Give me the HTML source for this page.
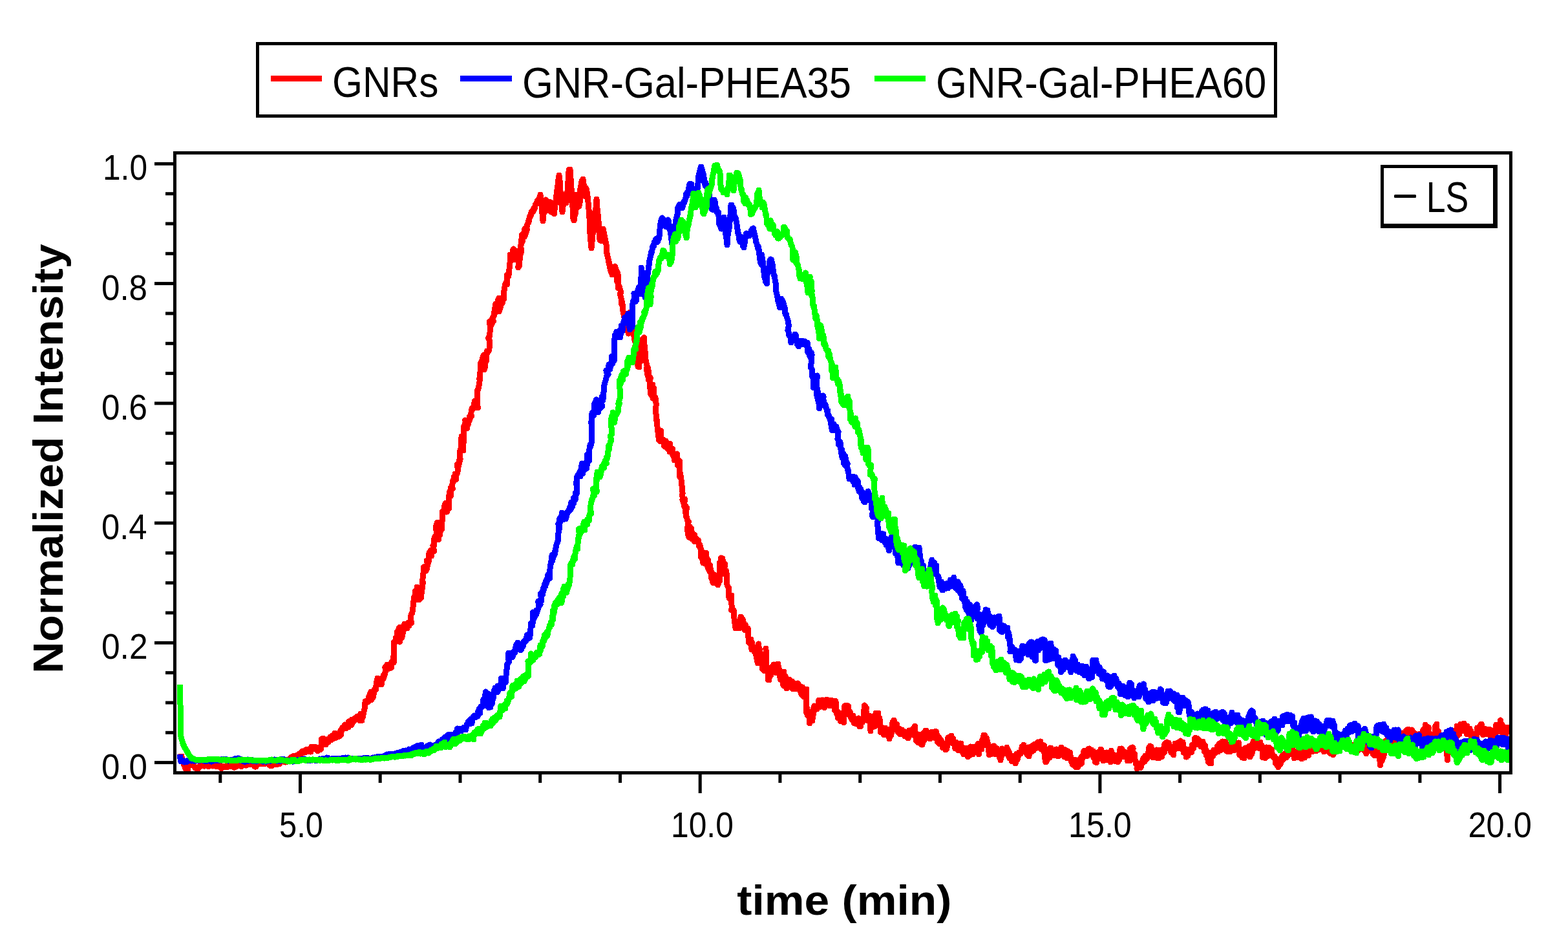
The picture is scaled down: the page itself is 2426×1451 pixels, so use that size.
<!DOCTYPE html>
<html><head><meta charset="utf-8"><title>Normalized Intensity vs time</title>
<style>html,body{margin:0;padding:0;background:#fff;overflow:hidden}svg{display:block}
text{font-family:"Liberation Sans", Arial, sans-serif;fill:#000}</style></head>
<body>
<svg width="2426" height="1451" viewBox="0 0 2426 1451">
<rect width="2426" height="1451" fill="#fff"/>
<rect x="398.5" y="67.5" width="1575" height="112" fill="#fff" stroke="#000" stroke-width="5"/>
<rect x="419" y="117" width="79" height="9" fill="#f00"/>
<rect x="712" y="117" width="80" height="9" fill="#00f"/>
<rect x="1353" y="117" width="79" height="9" fill="#0f0"/>
<text transform="matrix(0.60417 0 0 0.66901 513.98 150.33)" x="0" y="0" font-size="100" font-weight="normal">GNRs</text>
<text transform="matrix(0.61477 0 0 0.67568 807.93 150.82)" x="0" y="0" font-size="100" font-weight="normal">GNR-Gal-PHEA35</text>
<text transform="matrix(0.61783 0 0 0.67568 1447.91 150.82)" x="0" y="0" font-size="100" font-weight="normal">GNR-Gal-PHEA60</text>
<clipPath id="pc"><rect x="273" y="239" width="2062" height="954"/></clipPath>
<g clip-path="url(#pc)">
<polyline points="280.0,1166 280.7,1171 281.3,1171 282.0,1174 282.7,1176 283.3,1178 284.0,1182 284.7,1181 285.3,1185 286.0,1184 286.7,1188 287.3,1190 288.0,1190 288.7,1190 289.3,1190 290.0,1190 290.7,1190 291.3,1185 292.0,1184 292.7,1184 293.3,1183 294.0,1183 294.7,1182 295.3,1182 296.0,1181 296.7,1181 297.3,1182 298.0,1183 298.7,1184 299.3,1185 300.0,1185 300.7,1185 301.3,1187 302.0,1188 302.7,1188 303.3,1188 304.0,1189 304.7,1189 305.3,1190 306.0,1190 306.7,1189 307.3,1188 308.0,1186 308.7,1187 309.3,1184 310.0,1185 310.7,1184 311.4,1183 312.1,1183 312.8,1184 313.4,1185 314.1,1184 314.8,1184 315.5,1185 316.2,1185 316.9,1185 317.6,1184 318.3,1184 319.0,1185 319.7,1184 320.3,1184 321.0,1184 321.7,1185 322.4,1186 323.1,1185 323.8,1185 324.5,1185 325.2,1185 325.9,1184 326.6,1185 327.2,1185 327.9,1184 328.6,1185 329.3,1185 330.0,1185 330.7,1184 331.4,1184 332.1,1185 332.8,1184 333.5,1184 334.2,1184 334.9,1186 335.6,1184 336.3,1185 337.0,1184 337.7,1185 338.4,1185 339.1,1186 339.8,1184 340.5,1185 341.2,1187 341.9,1187 342.6,1189 343.3,1188 344.0,1187 344.7,1185 345.3,1187 346.0,1186 346.7,1185 347.4,1185 348.1,1185 348.8,1185 349.5,1185 350.2,1187 350.9,1186 351.6,1187 352.3,1186 353.0,1184 353.7,1184 354.4,1184 355.1,1186 355.8,1184 356.5,1184 357.2,1185 357.9,1184 358.6,1184 359.3,1186 360.0,1184 360.7,1185 361.4,1187 362.1,1187 362.8,1187 363.5,1187 364.2,1186 364.9,1186 365.6,1183 366.3,1183 367.0,1184 367.7,1184 368.4,1182 369.1,1182 369.8,1183 370.5,1184 371.2,1185 371.9,1185 372.6,1185 373.3,1186 374.0,1184 374.7,1184 375.3,1184 376.0,1184 376.7,1183 377.4,1184 378.1,1183 378.8,1184 379.5,1184 380.2,1183 380.9,1184 381.6,1184 382.3,1183 383.0,1183 383.7,1183 384.4,1182 385.1,1183 385.8,1181 386.5,1182 387.2,1183 387.9,1182 388.6,1182 389.3,1180 390.0,1180 390.7,1180 391.4,1181 392.1,1180 392.8,1179 393.5,1185 394.2,1186 394.9,1186 395.6,1186 396.3,1186 397.0,1182 397.7,1182 398.4,1181 399.1,1181 399.8,1182 400.5,1181 401.2,1182 401.9,1181 402.6,1182 403.3,1181 404.0,1182 404.7,1181 405.3,1181 406.0,1182 406.7,1180 407.4,1181 408.1,1182 408.8,1181 409.5,1182 410.2,1181 410.9,1179 411.6,1180 412.3,1180 413.0,1179 413.7,1180 414.4,1180 415.1,1181 415.8,1181 416.5,1183 417.2,1184 417.9,1184 418.6,1185 419.3,1184 420.0,1184 420.7,1185 421.4,1181 422.1,1181 422.8,1180 423.4,1181 424.1,1179 424.8,1179 425.5,1180 426.2,1180 426.9,1180 427.6,1183 428.3,1183 429.0,1181 429.7,1181 430.3,1182 431.0,1181 431.7,1182 432.4,1182 433.1,1181 433.8,1176 434.5,1176 435.2,1177 435.9,1176 436.6,1177 437.2,1176 437.9,1175 438.6,1175 439.3,1175 440.0,1178 440.7,1179 441.3,1179 442.0,1179 442.7,1177 443.3,1178 444.0,1178 444.7,1177 445.4,1175 446.0,1175 446.7,1175 447.4,1175 448.0,1174 448.7,1174 449.4,1173 450.0,1172 450.7,1171 451.4,1172 452.0,1171 452.7,1170 453.4,1171 454.0,1172 454.7,1171 455.4,1170 456.0,1169 456.7,1171 457.4,1170 458.1,1169 458.7,1169 459.4,1168 460.1,1168 460.7,1169 461.4,1168 462.1,1167 462.7,1166 463.4,1168 464.0,1166 464.7,1167 465.4,1165 466.0,1168 466.7,1165 467.4,1162 468.0,1164 468.7,1164 469.4,1164 469.9,1164 470.7,1163 471.3,1164 472.0,1164 472.8,1163 473.2,1160 474.2,1163 474.4,1163 475.4,1159 475.8,1159 476.4,1162 477.2,1159 478.2,1162 478.7,1161 479.6,1160 480.0,1163 480.9,1163 481.5,1157 482.0,1155 482.6,1158 483.4,1156 484.2,1155 484.6,1156 485.3,1158 486.0,1159 486.8,1155 487.4,1158 487.9,1156 488.7,1157 489.3,1156 490.0,1159 490.8,1159 491.5,1162 492.1,1157 492.8,1157 493.2,1158 493.6,1159 495.1,1160 495.7,1159 495.7,1155 496.4,1159 497.3,1149 497.5,1143 499.0,1148 498.5,1143 500.1,1142 500.5,1150 501.2,1147 501.9,1146 502.5,1150 503.2,1151 504.0,1152 504.6,1150 505.3,1149 506.0,1149 506.6,1145 507.4,1143 508.0,1148 508.7,1145 509.2,1143 510.5,1144 511.0,1140 511.5,1144 512.1,1145 512.4,1143 513.6,1138 514.2,1143 514.8,1143 515.8,1138 516.6,1142 516.7,1139 517.6,1137 518.1,1134 518.8,1142 519.5,1141 520.2,1136 520.8,1137 521.8,1137 522.2,1139 522.8,1136 523.5,1140 524.2,1135 525.1,1139 525.6,1137 526.5,1132 527.0,1130 527.5,1137 528.0,1132 529.1,1130 529.4,1126 530.3,1126 531.2,1127 531.5,1127 532.5,1123 533.4,1121 534.1,1125 534.4,1123 535.2,1127 535.6,1121 537.2,1123 537.5,1124 538.0,1121 539.2,1125 539.5,1116 539.7,1121 540.3,1120 541.3,1122 542.4,1120 543.2,1116 543.4,1122 544.2,1113 544.5,1118 545.2,1119 545.7,1113 547.1,1116 547.3,1116 547.7,1112 548.5,1111 549.0,1111 549.6,1112 550.3,1113 551.0,1111 552.3,1108 552.8,1113 553.5,1111 553.9,1108 554.2,1108 555.5,1111 556.8,1115 557.7,1104 557.1,1115 557.0,1111 558.8,1112 559.8,1115 560.3,1106 560.1,1112 560.9,1104 561.3,1110 562.6,1102 563.5,1099 564.6,1094 564.3,1093 565.1,1085 565.8,1085 567.0,1087 567.3,1084 568.1,1085 569.4,1086 570.1,1082 570.9,1077 571.7,1077 571.2,1077 573.1,1072 572.3,1078 572.9,1077 573.9,1070 574.5,1083 574.8,1082 576.7,1079 577.8,1078 577.6,1078 578.6,1071 578.4,1071 579.4,1066 579.3,1069 581.2,1066 581.5,1067 581.5,1062 582.3,1061 583.0,1053 584.2,1049 584.8,1050 585.0,1054 586.0,1055 587.0,1058 587.7,1056 587.7,1057 588.8,1056 589.0,1058 590.1,1059 590.5,1050 590.9,1054 592.3,1049 593.1,1045 592.9,1049 593.2,1050 595.2,1042 594.8,1045 596.7,1038 595.8,1032 596.8,1034 597.5,1035 598.9,1028 599.5,1035 600.2,1032 599.9,1035 600.7,1035 601.9,1034 602.9,1034 604.4,1033 603.1,1031 605.3,1033 605.3,1026 605.9,1024 608.0,1024 608.5,1016 609.1,1025 609.3,1017 609.3,1016 609.5,993 610.4,995 611.9,991 613.1,992 612.3,986 612.8,987 614.3,990 614.1,978 615.1,984 615.5,977 617.7,971 616.9,973 618.3,970 620.3,975 618.3,993 620.3,986 620.8,984 621.9,986 623.7,977 621.9,976 624.5,975 623.6,976 624.4,975 625.1,974 625.9,965 627.3,968 627.0,967 628.9,970 628.2,965 630.5,967 629.8,972 631.8,963 632.0,963 632.9,968 633.2,966 633.2,965 633.7,966 635.7,956 636.3,964 635.5,953 636.4,950 637.6,949 638.6,943 639.7,932 640.9,923 640.3,930 640.6,929 642.7,921 642.4,916 642.7,914 644.9,914 643.5,916 646.1,916 645.0,908 648.0,912 646.8,925 646.6,920 648.6,920 647.9,928 650.1,926 652.0,924 650.5,917 650.4,921 652.2,918 654.3,901 653.4,901 654.1,894 655.1,886 655.1,884 655.5,877 657.6,884 656.9,884 659.4,883 660.2,874 660.6,880 661.4,873 660.2,867 662.3,866 661.7,874 664.1,863 662.9,870 664.0,855 664.0,857 666.7,854 666.5,851 667.8,860 667.1,854 668.3,854 668.8,853 671.4,852 669.9,844 671.4,853 670.6,852 672.0,832 674.4,828 675.5,826 675.9,817 674.6,819 675.0,812 676.4,818 676.4,808 678.4,835 679.8,825 680.5,828 680.1,827 682.2,819 680.7,814 682.8,820 683.3,819 683.5,818 684.7,791 684.7,791 685.2,791 686.6,791 688.0,784 688.3,786 687.4,784 688.3,780 690.1,778 689.6,792 691.3,792 691.9,784 692.9,780 693.4,780 694.4,787 694.7,767 695.1,765 695.9,760 697.8,767 696.2,762 698.0,765 697.4,754 700.3,756 699.1,751 699.8,750 700.6,744 702.4,744 701.7,743 702.5,737 705.4,738 705.7,742 704.0,733 705.2,737 707.4,732 708.5,727 708.3,725 707.4,718 708.0,724 709.5,721 712.1,710 710.8,715 711.5,699 714.2,689 714.1,693 713.3,684 714.1,675 716.9,697 715.4,693 718.0,681 717.8,681 717.4,682 717.7,660 721.0,651 719.7,650 722.5,663 722.9,656 723.4,650 722.2,657 722.6,658 724.3,649 724.7,656 726.2,645 725.6,650 726.9,649 728.7,641 729.5,644 728.9,641 729.1,636 730.5,631 731.4,631 731.9,630 732.5,632 732.8,630 734.4,620 735.0,631 735.1,631 735.4,627 736.0,631 738.2,624 739.4,631 738.0,624 738.0,605 739.8,602 741.8,593 742.3,586 742.0,588 741.9,585 744.0,567 743.8,561 743.3,562 745.6,558 746.8,562 746.8,556 746.5,554 748.5,549 748.9,569 749.2,572 750.1,569 751.0,555 751.7,559 750.1,551 751.4,558 752.1,559 752.9,546 753.2,543 754.1,546 757.0,541 757.2,526 755.5,523 757.3,520 759.2,504 757.6,497 758.2,506 760.5,499 762.0,494 760.2,502 763.4,497 761.9,492 762.2,492 764.3,488 765.3,479 765.6,485 765.4,479 766.9,470 768.1,471 769.2,472 770.2,465 770.9,464 771.5,471 769.7,470 771.9,461 772.8,477 772.1,482 774.8,474 773.1,472 774.4,475 774.4,471 777.3,469 776.6,466 777.7,467 777.4,462 780.0,462 779.1,452 779.3,458 779.9,450 781.5,440 783.6,436 782.7,440 784.4,440 784.8,436 784.9,435 784.6,425 786.1,427 786.5,428 787.7,423 788.2,412 789.8,401 789.1,394 790.9,394 792.5,398 792.4,398 791.9,397 793.1,397 793.2,394 793.8,386 794.6,385 796.1,402 797.6,393 797.7,395 797.7,396 799.5,396 799.1,388 800.7,388 799.5,400 801.8,396 802.8,403 801.8,414 803.8,410 804.1,400 804.1,392 805.7,393 806.9,386 805.3,381 808.8,372 806.6,375 807.5,363 809.8,361 810.2,366 811.9,359 812.5,353 811.2,356 811.7,366 813.2,362 815.3,355 814.3,354 815.3,350 816.0,347 816.7,346 817.3,342 818.0,344 818.7,339 819.3,337 820.0,334 820.7,335 821.3,333 822.0,328 822.7,327 823.3,328 824.0,327 824.7,328 825.3,323 826.0,325 826.7,322 827.3,323 828.0,318 828.7,316 829.3,315 830.0,315 830.7,313 831.3,310 832.0,312 832.7,310 833.3,308 834.0,309 834.7,305 835.3,306 836.0,301 836.7,312 837.3,310 838.0,319 838.7,328 839.3,334 840.0,342 840.6,339 841.2,329 841.9,325 842.5,320 843.1,319 843.8,314 844.4,309 845.0,325 845.7,326 846.3,323 847.0,325 847.7,326 848.3,314 849.0,312 849.7,315 850.3,314 851.0,316 851.7,316 852.4,313 853.1,328 853.8,327 854.5,329 855.2,328 855.9,327 856.6,328 857.3,331 858.0,325 858.7,318 859.4,315 860.1,311 860.8,304 861.5,295 862.2,293 862.9,288 863.6,279 864.3,276 865.0,271 865.6,274 866.2,282 866.9,294 867.5,299 868.1,307 868.8,314 869.4,323 870.0,328 870.7,325 871.3,315 872.0,312 872.7,307 873.3,308 874.0,302 874.7,304 875.3,300 876.0,314 876.7,310 877.3,304 878.0,295 878.7,293 879.3,269 880.0,265 880.7,262 881.3,262 882.0,262 882.6,268 883.2,280 883.9,289 884.5,299 885.1,310 885.8,316 886.4,328 887.0,339 887.6,340 888.2,341 888.9,335 889.5,331 890.1,332 890.8,306 891.4,307 892.0,301 892.7,302 893.3,321 894.0,319 894.7,319 895.3,318 896.0,319 896.7,315 897.3,312 898.0,291 898.7,289 899.3,283 900.0,283 900.7,279 901.3,278 902.0,277 902.7,294 903.3,290 904.0,287 904.7,290 905.3,296 906.0,304 906.7,291 907.3,293 908.0,296 908.7,302 909.3,305 910.0,313 910.6,317 911.2,327 911.9,334 912.5,353 913.1,363 913.8,371 914.4,378 915.0,384 915.7,378 916.3,369 917.0,363 917.7,353 918.3,343 919.0,339 919.7,330 920.3,328 921.0,327 921.7,323 922.3,322 923.0,308 923.6,316 924.2,325 924.9,329 925.5,339 926.1,343 926.8,356 927.4,366 928.0,371 928.6,372 929.2,369 929.9,365 930.5,373 931.1,371 931.8,372 932.4,370 933.0,354 933.7,356 934.4,362 935.1,364 935.8,367 936.5,371 937.2,374 937.9,376 938.6,391 939.3,393 940.0,396 940.7,399 941.4,402 942.1,408 942.8,407 943.5,413 944.2,417 944.9,418 945.6,421 946.3,420 947.0,425 947.6,424 948.2,419 948.9,419 949.5,418 950.1,413 950.8,414 951.4,412 952.0,413 952.7,418 953.3,421 954.0,429 954.7,436 953.9,419 956.0,423 956.5,446 957.0,444 958.0,444 958.6,444 959.0,447 961.0,452 959.3,454 961.5,464 962.3,470 961.2,470 962.4,468 962.7,467 964.3,485 966.2,486 965.4,490 966.5,492 967.8,497 969.2,501 968.1,496 970.1,494 968.7,506 971.7,509 972.5,516 970.9,510 971.3,509 973.4,484 975.0,483 975.4,495 975.1,493 974.5,507 975.3,498 976.0,503 976.6,506 977.8,513 979.0,512 979.9,517 981.7,523 981.1,524 981.5,518 982.4,526 983.5,532 982.6,537 982.8,546 984.1,557 984.3,561 985.6,554 987.0,567 988.9,568 988.5,562 988.4,555 990.4,560 989.2,548 990.6,551 992.5,551 990.8,542 992.1,529 992.2,531 993.6,536 994.0,525 995.7,532 995.1,530 996.4,522 996.2,533 996.7,533 997.6,536 998.7,555 1001.5,568 1000.5,570 1000.0,570 1001.7,578 1002.1,581 1002.5,569 1003.0,572 1003.4,588 1006.3,584 1005.1,597 1005.2,595 1006.9,610 1006.3,603 1009.1,608 1010.1,616 1008.6,603 1009.8,595 1010.1,601 1011.4,600 1011.2,607 1011.8,617 1013.3,614 1014.6,618 1015.2,626 1014.3,635 1016.2,650 1015.8,650 1018.2,670 1018.2,672 1018.8,676 1019.9,673 1019.4,681 1021.4,683 1020.6,677 1021.9,666 1022.6,674 1022.4,666 1023.1,681 1026.0,682 1026.0,680 1027.2,685 1027.5,688 1027.3,690 1028.8,685 1029.0,686 1029.2,691 1030.0,682 1031.8,685 1032.3,694 1032.7,687 1033.1,692 1034.7,693 1035.2,690 1036.2,686 1035.8,693 1036.0,699 1038.4,694 1037.7,693 1039.2,696 1040.4,694 1040.8,704 1040.8,700 1041.3,699 1041.8,703 1041.7,705 1044.2,711 1043.2,712 1044.2,707 1046.7,710 1047.1,704 1047.3,702 1047.2,709 1049.1,715 1048.6,720 1049.4,716 1050.3,712 1051.9,724 1051.7,713 1051.2,737 1052.5,732 1054.5,745 1054.4,745 1056.1,763 1055.1,766 1055.6,765 1057.4,778 1055.9,773 1059.1,773 1059.8,772 1058.1,782 1060.9,787 1060.6,782 1061.1,798 1062.3,785 1061.5,796 1064.4,808 1065.3,807 1063.3,819 1065.8,831 1064.9,828 1066.2,830 1067.7,815 1068.8,819 1068.3,817 1069.7,817 1068.9,832 1070.8,834 1071.5,825 1071.9,831 1072.0,834 1073.1,834 1074.5,830 1074.5,827 1074.3,838 1075.7,835 1076.1,832 1076.5,835 1077.5,833 1077.9,834 1078.3,835 1079.8,837 1080.8,836 1081.1,844 1081.5,842 1082.9,845 1083.2,848 1082.9,843 1084.7,850 1084.9,854 1084.7,862 1085.8,853 1086.5,864 1088.0,871 1088.6,867 1089.7,862 1090.6,872 1091.9,866 1092.2,870 1092.3,855 1091.8,871 1092.0,859 1095.1,867 1095.3,866 1094.8,877 1096.5,881 1096.5,876 1098.4,874 1097.8,884 1098.4,875 1099.4,881 1100.7,895 1101.6,886 1102.4,898 1102.5,893 1102.5,899 1103.3,902 1104.7,899 1104.7,889 1105.9,900 1106.6,892 1106.9,897 1107.8,900 1108.6,893 1109.2,902 1109.6,904 1110.3,901 1110.9,905 1111.7,902 1112.4,899 1113.7,899 1113.9,879 1113.4,870 1115.0,872 1115.6,863 1116.8,869 1117.1,869 1117.8,864 1118.1,871 1118.0,865 1118.9,872 1121.1,877 1121.6,872 1120.4,873 1120.8,888 1123.4,888 1122.6,888 1123.7,883 1124.6,893 1124.7,893 1125.0,905 1127.9,910 1127.6,923 1128.0,921 1128.5,926 1128.7,920 1131.0,924 1131.7,921 1132.1,940 1131.7,944 1132.4,941 1133.5,944 1134.8,944 1135.3,945 1135.1,944 1136.0,957 1136.2,960 1138.1,972 1138.5,966 1138.2,970 1140.0,966 1140.4,966 1141.0,969 1141.4,965 1142.4,961 1143.3,971 1143.5,972 1144.1,971 1144.6,972 1145.3,964 1146.0,954 1147.2,958 1148.1,960 1147.8,956 1149.2,959 1149.2,958 1150.7,965 1150.7,967 1151.7,967 1152.3,975 1152.7,968 1153.8,967 1154.2,971 1154.4,972 1155.1,974 1157.0,972 1157.3,973 1157.4,982 1158.4,990 1158.5,994 1159.2,991 1159.6,995 1161.7,989 1161.6,994 1163.1,993 1163.0,1005 1162.6,1001 1163.4,1002 1164.6,999 1166.2,1005 1166.9,1008 1167.0,1001 1167.5,1004 1169.4,1002 1170.3,1017 1168.4,1004 1171.4,1010 1171.4,1015 1170.2,1009 1172.2,1026 1172.8,1021 1173.2,1022 1173.5,996 1173.6,1000 1175.9,1006 1175.6,1023 1176.5,1026 1177.2,1024 1178.1,1027 1178.4,1022 1179.2,1027 1179.6,1035 1180.5,1027 1180.8,1017 1180.6,1013 1182.3,1038 1182.5,1026 1184.8,1032 1185.4,1012 1184.9,1003 1186.0,1021 1185.1,1027 1187.7,1041 1188.9,1039 1188.4,1052 1189.2,1040 1188.0,1051 1189.9,1052 1190.1,1048 1191.4,1035 1192.5,1037 1192.8,1044 1192.9,1042 1193.7,1033 1193.9,1032 1195.3,1031 1196.0,1035 1197.2,1028 1196.9,1034 1197.8,1031 1198.5,1037 1199.6,1040 1200.1,1037 1200.4,1041 1201.5,1038 1202.2,1032 1203.0,1027 1203.8,1027 1204.7,1035 1205.1,1036 1205.9,1036 1206.8,1047 1207.2,1051 1207.0,1040 1208.9,1052 1209.5,1046 1209.5,1044 1210.9,1049 1210.8,1049 1211.8,1060 1212.3,1061 1212.7,1039 1213.6,1047 1214.4,1052 1215.1,1047 1215.5,1047 1216.2,1056 1216.9,1065 1217.6,1064 1218.8,1059 1218.8,1063 1220.1,1056 1220.6,1059 1220.9,1057 1221.2,1051 1221.9,1056 1222.8,1061 1223.8,1055 1224.3,1054 1224.9,1064 1225.6,1054 1226.4,1057 1227.1,1066 1227.9,1062 1228.3,1063 1229.3,1057 1229.8,1061 1230.7,1065 1231.3,1061 1232.1,1066 1232.9,1062 1233.3,1060 1234.4,1057 1234.4,1063 1235.7,1061 1235.8,1061 1237.0,1061 1237.9,1069 1238.5,1069 1239.0,1064 1239.7,1068 1239.9,1074 1241.0,1075 1241.5,1063 1243.0,1072 1243.1,1075 1243.1,1075 1243.6,1078 1244.1,1075 1244.7,1077 1246.4,1078 1246.4,1074 1247.4,1078 1248.0,1066 1247.7,1102 1249.7,1107 1248.7,1096 1252.0,1110 1252.5,1104 1252.2,1118 1252.9,1118 1252.8,1119 1252.8,1114 1253.8,1108 1255.6,1114 1256.5,1105 1256.7,1115 1258.4,1104 1258.0,1107 1259.8,1092 1258.4,1097 1259.3,1101 1260.8,1093 1261.4,1096 1262.0,1095 1262.6,1095 1263.3,1097 1264.0,1097 1264.6,1095 1265.4,1091 1266.1,1093 1266.8,1083 1267.3,1091 1268.1,1094 1268.7,1091 1269.5,1090 1270.0,1089 1270.7,1085 1271.4,1083 1272.0,1091 1272.6,1092 1273.4,1083 1274.0,1087 1274.7,1084 1275.3,1095 1276.0,1088 1276.7,1092 1277.3,1090 1278.1,1091 1278.7,1082 1279.3,1082 1280.0,1085 1280.8,1086 1281.6,1091 1282.1,1091 1282.6,1085 1283.6,1088 1284.0,1092 1284.9,1086 1285.5,1091 1286.2,1083 1286.9,1088 1287.6,1085 1288.3,1088 1289.2,1085 1289.7,1088 1290.2,1089 1290.9,1084 1292.4,1084 1291.7,1099 1292.5,1094 1293.9,1088 1294.0,1103 1295.0,1102 1295.6,1104 1296.5,1111 1296.0,1101 1296.7,1103 1299.3,1103 1298.8,1104 1299.7,1110 1300.4,1116 1301.0,1112 1301.6,1109 1302.3,1112 1303.1,1104 1303.0,1116 1303.7,1113 1305.8,1117 1305.7,1118 1306.3,1099 1306.8,1092 1307.9,1102 1309.1,1096 1308.8,1091 1309.9,1100 1311.1,1105 1311.3,1101 1312.4,1092 1312.8,1095 1312.9,1101 1313.8,1101 1315.1,1101 1315.6,1106 1315.9,1109 1316.7,1109 1317.6,1112 1317.8,1107 1318.5,1114 1319.1,1108 1319.8,1107 1320.7,1111 1321.3,1119 1322.0,1112 1322.7,1111 1323.4,1114 1324.0,1113 1324.6,1120 1325.3,1119 1326.0,1115 1326.7,1118 1327.4,1119 1328.0,1112 1328.7,1111 1329.3,1122 1330.0,1124 1330.7,1122 1331.4,1124 1331.8,1122 1333.2,1115 1333.6,1114 1333.6,1116 1334.2,1117 1334.7,1117 1336.5,1109 1336.4,1111 1337.3,1091 1338.4,1103 1338.8,1093 1339.6,1101 1340.3,1095 1339.7,1098 1341.5,1108 1343.1,1111 1342.6,1115 1344.9,1107 1344.8,1112 1345.4,1109 1346.2,1117 1346.5,1108 1347.0,1131 1346.7,1119 1347.1,1111 1348.0,1112 1349.7,1125 1350.2,1122 1351.0,1123 1351.6,1116 1352.7,1113 1353.4,1124 1354.8,1108 1353.6,1108 1355.1,1103 1354.9,1117 1355.4,1114 1356.1,1117 1357.6,1122 1358.1,1106 1358.7,1103 1359.0,1111 1360.5,1116 1360.9,1111 1361.3,1116 1362.3,1127 1362.6,1133 1363.8,1125 1364.2,1125 1365.4,1128 1365.8,1131 1366.2,1135 1366.7,1130 1368.2,1137 1368.1,1126 1369.5,1126 1369.8,1133 1370.3,1132 1371.6,1135 1371.9,1136 1372.3,1130 1373.1,1134 1374.2,1135 1374.7,1137 1375.7,1140 1376.0,1143 1376.7,1128 1376.8,1129 1378.3,1131 1378.8,1137 1379.9,1130 1380.5,1121 1381.3,1116 1381.8,1121 1382.9,1119 1383.1,1114 1383.6,1122 1384.3,1124 1385.0,1122 1385.7,1129 1386.2,1125 1386.6,1125 1387.5,1120 1388.2,1129 1388.6,1126 1389.4,1133 1390.5,1127 1391.2,1127 1391.5,1133 1392.4,1136 1393.2,1134 1393.5,1130 1394.4,1134 1395.3,1131 1395.6,1129 1396.5,1134 1396.9,1133 1398.0,1131 1398.4,1136 1399.2,1135 1399.8,1139 1400.6,1135 1401.3,1139 1401.9,1132 1402.5,1138 1403.6,1133 1403.9,1141 1404.7,1135 1405.2,1142 1406.3,1130 1406.4,1139 1407.2,1134 1408.2,1137 1408.5,1136 1409.3,1137 1410.4,1136 1411.0,1136 1411.7,1129 1412.6,1127 1412.6,1135 1413.9,1131 1413.9,1126 1415.2,1129 1415.1,1130 1415.3,1123 1417.4,1146 1417.7,1136 1417.3,1142 1418.1,1145 1421.2,1136 1421.5,1149 1420.7,1149 1422.2,1143 1423.0,1147 1423.4,1147 1424.4,1145 1424.5,1149 1425.8,1150 1425.8,1152 1427.0,1152 1427.7,1144 1428.4,1134 1429.1,1146 1429.0,1142 1429.7,1141 1430.3,1145 1431.8,1136 1431.8,1130 1433.1,1130 1433.3,1135 1434.2,1138 1434.9,1139 1435.5,1139 1436.2,1139 1437.0,1135 1437.5,1135 1438.2,1136 1439.0,1143 1439.6,1136 1440.3,1136 1440.9,1140 1441.7,1132 1442.4,1136 1443.0,1132 1443.8,1135 1444.4,1137 1445.0,1133 1445.7,1138 1446.5,1136 1447.0,1142 1447.8,1131 1448.6,1132 1449.5,1138 1450.0,1143 1450.4,1148 1451.1,1139 1452.0,1142 1452.9,1141 1453.4,1151 1454.0,1147 1454.4,1143 1455.0,1146 1456.2,1145 1456.7,1151 1457.3,1153 1458.2,1149 1458.3,1157 1459.3,1150 1459.9,1152 1460.8,1155 1461.4,1156 1462.4,1155 1463.0,1160 1463.7,1155 1464.1,1152 1464.8,1158 1466.0,1151 1465.8,1149 1467.2,1142 1466.8,1141 1467.4,1141 1469.3,1148 1469.2,1140 1469.4,1145 1471.3,1142 1471.5,1139 1472.0,1138 1472.7,1143 1473.8,1143 1474.0,1150 1475.0,1143 1474.9,1144 1475.5,1146 1476.6,1150 1477.0,1154 1477.8,1158 1479.0,1148 1479.5,1154 1479.7,1149 1480.6,1150 1481.6,1152 1482.0,1151 1482.6,1161 1483.6,1159 1484.2,1159 1484.9,1153 1485.4,1150 1486.2,1158 1486.7,1150 1487.6,1159 1488.5,1163 1488.9,1156 1489.8,1165 1490.5,1162 1491.1,1167 1491.8,1159 1492.4,1159 1493.0,1162 1493.8,1157 1494.6,1158 1495.4,1160 1496.2,1157 1496.6,1165 1497.6,1171 1498.2,1167 1498.7,1162 1499.6,1168 1500.1,1167 1500.8,1168 1501.5,1155 1502.0,1159 1502.6,1162 1503.8,1156 1504.3,1159 1505.1,1167 1505.3,1165 1506.1,1162 1506.7,1164 1507.6,1160 1508.2,1155 1508.7,1161 1509.5,1161 1510.6,1157 1511.2,1164 1511.5,1162 1512.7,1152 1513.3,1150 1514.5,1167 1514.0,1164 1514.7,1160 1516.2,1155 1516.8,1150 1517.7,1154 1518.4,1155 1519.0,1159 1518.6,1154 1519.2,1145 1520.2,1147 1521.1,1143 1522.0,1137 1523.4,1137 1522.6,1137 1523.3,1149 1524.4,1150 1525.5,1147 1526.0,1153 1526.5,1142 1527.4,1147 1528.9,1151 1528.3,1152 1529.0,1153 1529.7,1161 1530.6,1168 1531.3,1163 1532.1,1165 1532.7,1163 1533.4,1167 1534.1,1161 1534.5,1158 1535.2,1159 1536.0,1158 1536.6,1154 1537.5,1157 1538.1,1154 1538.7,1163 1539.3,1165 1540.0,1167 1540.5,1160 1541.4,1157 1541.9,1165 1542.8,1158 1543.3,1159 1544.2,1166 1544.9,1166 1545.5,1162 1546.1,1171 1546.9,1171 1547.5,1167 1548.0,1176 1549.0,1166 1549.5,1166 1550.3,1158 1550.8,1168 1551.6,1166 1552.2,1159 1553.0,1161 1553.5,1162 1554.2,1165 1555.0,1163 1555.6,1165 1556.3,1166 1557.0,1165 1557.7,1156 1558.4,1159 1559.1,1159 1559.7,1163 1560.5,1170 1561.1,1163 1561.9,1173 1562.6,1167 1563.2,1171 1563.9,1173 1564.6,1174 1565.3,1178 1566.0,1174 1566.6,1173 1567.4,1173 1568.1,1169 1568.7,1178 1569.4,1177 1570.1,1176 1570.8,1181 1571.5,1180 1572.2,1178 1572.8,1166 1573.6,1174 1574.3,1175 1575.0,1167 1575.6,1170 1576.3,1164 1577.0,1167 1577.7,1164 1578.4,1163 1579.0,1166 1579.8,1163 1580.5,1164 1581.1,1155 1581.9,1160 1582.5,1160 1583.2,1154 1583.9,1152 1584.7,1162 1585.0,1155 1585.7,1160 1586.8,1163 1587.1,1163 1587.8,1159 1588.6,1166 1589.5,1168 1590.1,1163 1590.6,1156 1591.1,1160 1592.0,1170 1592.9,1162 1593.4,1164 1594.2,1163 1594.9,1155 1595.7,1163 1596.1,1155 1596.9,1158 1597.3,1162 1598.1,1153 1599.0,1161 1599.3,1154 1600.2,1153 1600.9,1151 1601.4,1153 1602.2,1158 1603.0,1153 1603.9,1151 1604.2,1154 1604.9,1152 1605.6,1148 1606.1,1155 1606.9,1152 1607.4,1154 1609.0,1149 1608.3,1154 1610.5,1159 1609.7,1147 1611.9,1156 1610.9,1151 1611.8,1155 1612.7,1152 1613.1,1156 1615.2,1155 1615.5,1153 1615.9,1165 1616.9,1160 1616.6,1172 1617.2,1176 1617.8,1179 1618.8,1178 1619.3,1177 1619.9,1175 1621.1,1174 1621.9,1171 1622.6,1167 1622.7,1169 1624.3,1172 1624.5,1157 1624.9,1164 1625.5,1164 1626.1,1157 1627.7,1163 1627.8,1162 1628.3,1160 1629.5,1162 1629.9,1165 1630.7,1163 1631.3,1160 1632.0,1169 1632.7,1160 1633.3,1164 1634.0,1160 1634.7,1159 1635.3,1161 1636.0,1167 1636.7,1164 1637.3,1170 1638.0,1163 1638.7,1169 1639.3,1169 1640.0,1164 1640.7,1165 1641.3,1165 1641.9,1156 1642.8,1167 1642.9,1161 1644.3,1163 1644.7,1159 1645.5,1164 1646.4,1165 1646.9,1171 1647.4,1168 1648.3,1161 1648.5,1160 1649.8,1168 1649.9,1162 1650.5,1161 1651.1,1173 1652.4,1171 1652.7,1162 1653.6,1164 1653.8,1166 1654.6,1170 1655.6,1164 1656.3,1172 1656.8,1172 1657.2,1177 1658.6,1180 1659.1,1178 1659.6,1183 1660.4,1177 1661.2,1177 1661.7,1177 1662.5,1180 1662.8,1175 1663.7,1186 1664.6,1187 1665.2,1179 1666.2,1184 1666.8,1186 1667.4,1187 1667.8,1181 1668.5,1185 1669.4,1179 1669.8,1175 1670.7,1181 1671.6,1180 1672.0,1182 1672.7,1171 1673.3,1181 1674.2,1173 1675.1,1173 1675.6,1169 1676.1,1166 1676.9,1162 1677.8,1163 1678.4,1161 1679.1,1161 1679.7,1168 1680.4,1169 1681.1,1170 1681.7,1169 1682.5,1169 1683.2,1159 1683.8,1165 1684.5,1164 1685.2,1158 1685.8,1166 1686.6,1161 1687.3,1165 1687.9,1164 1688.7,1160 1689.4,1167 1690.0,1162 1690.5,1165 1691.2,1171 1691.7,1162 1692.6,1166 1693.6,1174 1694.3,1171 1694.6,1179 1695.1,1168 1695.9,1170 1696.5,1180 1697.6,1169 1698.1,1171 1698.6,1174 1699.4,1174 1700.0,1163 1700.3,1174 1701.2,1174 1701.7,1171 1703.0,1159 1703.5,1160 1704.0,1160 1704.7,1166 1705.2,1174 1706.1,1172 1706.8,1177 1707.3,1165 1707.9,1164 1708.6,1176 1709.7,1169 1709.7,1173 1710.8,1176 1711.6,1174 1712.0,1174 1712.4,1164 1713.0,1168 1713.8,1172 1714.6,1173 1715.1,1170 1715.8,1166 1716.5,1172 1717.4,1167 1718.2,1179 1718.7,1174 1719.2,1161 1720.6,1169 1720.8,1171 1721.9,1171 1722.6,1169 1723.0,1171 1723.5,1173 1724.5,1168 1725.1,1174 1725.9,1178 1726.6,1171 1727.1,1172 1727.9,1168 1728.2,1173 1729.3,1179 1729.6,1176 1730.4,1172 1731.3,1176 1732.0,1168 1732.4,1161 1733.1,1158 1733.7,1167 1734.7,1161 1735.4,1158 1736.0,1159 1736.6,1160 1737.3,1170 1737.9,1171 1738.5,1169 1739.2,1169 1740.0,1167 1740.5,1163 1740.9,1169 1742.4,1164 1742.3,1168 1743.5,1173 1743.6,1171 1744.3,1177 1745.3,1173 1746.0,1174 1746.9,1170 1747.5,1165 1747.9,1177 1748.6,1158 1749.4,1157 1750.2,1160 1750.3,1162 1751.4,1164 1752.3,1156 1753.1,1158 1752.7,1164 1754.3,1165 1755.5,1172 1755.7,1167 1756.1,1176 1757.4,1178 1757.2,1182 1758.4,1181 1759.1,1182 1759.0,1189 1759.7,1184 1761.0,1181 1761.9,1187 1763.0,1187 1763.9,1187 1764.2,1186 1763.7,1183 1764.7,1188 1766.0,1184 1766.2,1179 1767.9,1180 1767.3,1179 1769.3,1172 1769.6,1178 1770.6,1178 1771.1,1178 1771.7,1173 1772.1,1169 1772.7,1174 1773.6,1169 1774.2,1172 1774.8,1174 1775.7,1170 1776.4,1167 1776.6,1169 1777.3,1157 1777.9,1164 1779.3,1154 1779.2,1160 1780.3,1163 1781.0,1155 1781.9,1159 1782.6,1166 1783.2,1164 1784.1,1172 1784.8,1164 1785.5,1162 1785.7,1167 1786.2,1170 1786.9,1170 1787.6,1165 1788.9,1170 1789.6,1160 1789.7,1161 1790.3,1173 1791.6,1169 1792.0,1169 1792.8,1172 1793.3,1173 1793.9,1171 1794.4,1172 1795.1,1168 1796.2,1160 1796.8,1163 1797.4,1171 1798.2,1168 1798.9,1166 1799.5,1162 1799.9,1159 1800.8,1160 1801.5,1164 1801.9,1151 1802.8,1151 1803.4,1149 1804.0,1151 1804.6,1150 1805.4,1148 1806.2,1154 1806.7,1157 1807.5,1156 1808.1,1149 1808.9,1158 1809.5,1157 1810.1,1158 1810.8,1155 1811.7,1164 1812.2,1155 1812.9,1155 1813.7,1159 1814.3,1159 1815.0,1156 1815.5,1168 1816.1,1157 1816.9,1161 1818.0,1157 1818.1,1150 1819.3,1156 1819.6,1152 1820.3,1156 1820.9,1158 1821.6,1149 1822.6,1158 1822.8,1157 1823.6,1152 1824.1,1148 1824.8,1152 1825.6,1148 1826.4,1146 1827.0,1150 1827.5,1150 1828.6,1154 1829.1,1151 1830.0,1148 1830.0,1156 1831.2,1164 1831.5,1163 1832.1,1158 1832.9,1158 1833.3,1164 1834.6,1165 1835.3,1171 1835.5,1171 1836.5,1163 1837.0,1168 1838.1,1163 1838.0,1169 1839.4,1160 1839.8,1162 1840.1,1159 1841.4,1163 1841.5,1164 1842.1,1161 1843.6,1164 1843.9,1163 1844.6,1152 1845.3,1154 1846.3,1158 1846.6,1153 1846.9,1153 1847.9,1149 1848.6,1142 1849.3,1141 1849.9,1146 1850.6,1144 1851.4,1142 1852.0,1142 1852.5,1152 1853.3,1151 1854.0,1144 1854.5,1149 1855.2,1147 1856.1,1146 1856.7,1149 1857.4,1153 1858.0,1155 1858.7,1151 1859.2,1152 1859.8,1147 1861.0,1147 1861.4,1149 1861.8,1156 1862.8,1156 1863.2,1162 1863.8,1163 1864.4,1153 1865.3,1162 1866.2,1168 1866.6,1161 1867.8,1165 1868.2,1173 1868.9,1174 1869.5,1179 1870.5,1175 1870.6,1170 1871.4,1181 1872.2,1172 1872.9,1174 1873.9,1181 1874.1,1164 1874.6,1169 1875.7,1163 1876.3,1170 1876.8,1164 1877.7,1160 1878.3,1162 1878.8,1164 1880.1,1164 1880.0,1161 1880.8,1165 1882.0,1159 1882.7,1158 1883.4,1154 1884.0,1155 1884.6,1163 1885.2,1155 1885.5,1155 1886.3,1150 1887.1,1157 1888.0,1156 1888.4,1161 1889.2,1156 1889.9,1156 1890.6,1156 1891.3,1147 1892.0,1154 1892.7,1153 1893.3,1148 1894.1,1156 1894.8,1152 1895.4,1152 1896.0,1147 1896.6,1156 1897.5,1162 1898.1,1155 1898.7,1161 1899.3,1163 1900.2,1162 1900.7,1161 1901.5,1158 1902.2,1157 1902.8,1163 1903.5,1156 1904.2,1152 1904.9,1152 1905.6,1157 1906.3,1153 1907.0,1157 1907.7,1161 1908.4,1156 1909.1,1161 1909.7,1153 1910.4,1152 1911.2,1151 1911.8,1156 1912.5,1152 1913.2,1158 1913.9,1159 1914.5,1150 1915.2,1149 1916.0,1161 1916.6,1149 1917.3,1159 1917.9,1168 1918.8,1164 1919.7,1161 1920.1,1164 1920.9,1164 1921.7,1167 1921.9,1172 1922.9,1168 1923.6,1168 1924.0,1163 1925.0,1173 1926.0,1161 1926.6,1157 1927.2,1162 1927.5,1167 1928.4,1165 1929.0,1168 1929.8,1158 1930.5,1166 1931.5,1165 1931.6,1155 1932.6,1154 1933.2,1160 1934.1,1171 1934.6,1170 1935.5,1164 1935.9,1157 1937.0,1166 1937.0,1159 1937.8,1150 1938.5,1155 1939.4,1146 1940.4,1158 1941.2,1157 1941.7,1152 1942.5,1154 1942.5,1157 1944.0,1151 1944.0,1149 1945.3,1154 1945.2,1146 1946.2,1151 1947.1,1154 1947.9,1156 1948.5,1154 1949.2,1158 1949.9,1148 1950.6,1156 1951.0,1156 1951.5,1153 1952.8,1154 1953.4,1159 1953.7,1172 1954.7,1165 1955.0,1168 1955.7,1162 1956.6,1171 1957.4,1173 1957.9,1172 1958.5,1164 1959.4,1156 1960.4,1167 1961.0,1161 1961.3,1170 1962.2,1160 1963.0,1156 1963.6,1163 1964.3,1167 1964.6,1160 1965.5,1169 1966.2,1165 1967.3,1159 1967.7,1167 1968.1,1165 1969.1,1170 1969.6,1168 1970.7,1172 1971.1,1172 1971.9,1170 1972.4,1171 1973.5,1176 1973.6,1181 1974.4,1176 1975.2,1183 1976.0,1182 1976.7,1178 1977.2,1185 1977.8,1187 1978.9,1181 1979.3,1174 1980.0,1183 1980.4,1183 1981.3,1181 1982.0,1180 1982.4,1173 1983.5,1170 1983.8,1169 1984.9,1175 1985.3,1167 1985.9,1173 1986.4,1170 1987.6,1172 1987.9,1172 1988.8,1165 1989.3,1172 1990.0,1172 1990.8,1165 1991.4,1168 1992.0,1158 1992.7,1169 1993.6,1162 1994.3,1165 1994.8,1165 1995.6,1161 1996.4,1165 1996.9,1156 1997.5,1160 1998.2,1167 1998.9,1162 1999.8,1157 2000.3,1167 2001.1,1167 2001.7,1167 2002.3,1173 2003.1,1172 2003.6,1167 2004.5,1172 2005.1,1165 2005.9,1167 2006.6,1168 2007.1,1162 2007.7,1169 2008.6,1172 2009.2,1171 2010.0,1165 2010.5,1161 2011.3,1169 2012.0,1166 2012.7,1162 2013.4,1160 2013.9,1174 2014.7,1172 2015.3,1163 2016.1,1169 2016.7,1163 2017.4,1166 2018.2,1172 2018.7,1172 2019.4,1170 2020.2,1170 2020.9,1159 2021.6,1167 2022.3,1164 2023.0,1163 2023.6,1161 2024.4,1169 2025.1,1162 2025.8,1149 2026.5,1152 2027.2,1153 2027.8,1151 2028.6,1151 2029.3,1152 2030.0,1160 2030.6,1163 2031.5,1159 2032.2,1159 2032.8,1156 2033.6,1159 2034.2,1162 2034.9,1160 2035.6,1154 2036.3,1162 2037.0,1153 2037.7,1153 2038.5,1154 2039.0,1155 2039.8,1154 2040.4,1160 2041.2,1156 2041.9,1148 2042.6,1149 2043.3,1157 2044.0,1152 2044.7,1148 2045.4,1147 2046.2,1157 2046.8,1145 2047.6,1148 2048.2,1163 2048.9,1156 2049.7,1156 2050.3,1155 2051.0,1152 2051.7,1157 2052.3,1155 2053.0,1158 2053.7,1157 2054.4,1158 2055.1,1158 2055.8,1161 2056.4,1164 2057.1,1163 2057.8,1164 2058.5,1161 2059.2,1166 2059.9,1156 2060.6,1163 2061.2,1158 2061.9,1167 2062.5,1168 2063.3,1166 2063.9,1163 2064.6,1152 2065.3,1159 2065.9,1159 2066.7,1163 2067.3,1152 2068.0,1154 2068.7,1153 2069.4,1159 2070.1,1155 2070.7,1154 2071.5,1154 2072.1,1153 2072.9,1151 2073.7,1157 2074.4,1152 2075.1,1156 2075.7,1154 2076.4,1152 2077.2,1150 2077.9,1156 2078.5,1150 2079.2,1145 2079.9,1146 2080.7,1145 2081.2,1155 2081.9,1152 2082.6,1153 2083.4,1156 2084.1,1149 2084.8,1152 2085.5,1156 2086.2,1152 2086.9,1151 2087.6,1152 2088.3,1152 2088.9,1155 2089.6,1155 2090.4,1154 2091.0,1160 2091.7,1152 2092.4,1155 2093.1,1155 2093.8,1154 2094.5,1152 2095.1,1154 2095.9,1159 2096.6,1152 2097.2,1157 2097.9,1162 2098.6,1160 2099.3,1154 2100.0,1159 2100.6,1156 2101.3,1161 2102.0,1152 2102.6,1155 2103.3,1156 2103.9,1154 2104.7,1152 2105.3,1153 2106.0,1147 2106.6,1156 2107.3,1151 2108.0,1158 2108.6,1159 2109.3,1159 2109.9,1159 2110.6,1157 2111.2,1161 2111.7,1158 2112.4,1154 2113.5,1162 2113.9,1166 2114.5,1164 2115.2,1163 2116.0,1154 2116.4,1153 2117.4,1152 2118.0,1151 2118.4,1155 2119.1,1159 2120.2,1156 2120.6,1161 2121.3,1161 2121.8,1156 2122.6,1159 2123.5,1161 2124.0,1166 2124.7,1158 2125.3,1160 2125.9,1159 2126.6,1169 2127.2,1161 2128.0,1162 2128.7,1167 2129.5,1161 2130.0,1166 2130.7,1161 2131.2,1166 2132.0,1162 2132.7,1164 2133.4,1169 2134.3,1167 2135.4,1184 2135.7,1173 2136.9,1177 2136.6,1176 2137.6,1178 2138.5,1169 2139.4,1173 2138.9,1175 2139.5,1166 2140.2,1172 2141.7,1165 2141.6,1165 2142.4,1148 2143.3,1150 2144.1,1146 2145.3,1155 2145.7,1148 2146.9,1150 2146.9,1149 2147.9,1139 2148.4,1139 2149.2,1136 2149.6,1148 2151.0,1145 2151.1,1146 2151.8,1143 2152.7,1145 2153.4,1145 2154.1,1148 2154.7,1145 2155.4,1146 2156.1,1155 2156.8,1148 2157.5,1150 2158.2,1144 2158.8,1143 2159.5,1149 2160.2,1141 2160.9,1145 2161.6,1148 2162.3,1142 2162.9,1146 2163.6,1152 2164.3,1140 2164.9,1144 2165.5,1146 2166.4,1150 2167.2,1150 2168.0,1139 2168.5,1140 2169.3,1134 2170.1,1135 2170.5,1138 2171.1,1136 2172.1,1136 2172.9,1141 2173.4,1140 2174.0,1133 2174.9,1131 2175.5,1133 2176.4,1129 2176.7,1137 2177.6,1129 2178.3,1134 2179.1,1128 2179.7,1139 2180.2,1131 2181.2,1131 2181.8,1134 2182.5,1138 2183.2,1133 2183.9,1137 2184.4,1129 2185.1,1130 2185.9,1132 2186.4,1132 2187.3,1134 2187.9,1139 2188.5,1144 2189.2,1140 2190.0,1135 2190.9,1138 2191.2,1140 2191.9,1137 2192.5,1139 2193.5,1137 2193.8,1142 2194.9,1148 2195.5,1139 2196.3,1145 2197.1,1135 2197.4,1136 2198.4,1136 2198.8,1140 2199.6,1140 2200.3,1143 2201.1,1131 2201.9,1132 2202.5,1128 2203.0,1131 2204.0,1128 2204.7,1133 2205.2,1121 2206.1,1134 2206.0,1127 2207.5,1133 2207.3,1124 2208.1,1124 2208.7,1137 2210.1,1125 2209.9,1135 2210.5,1132 2212.1,1146 2211.8,1138 2213.0,1140 2213.7,1139 2214.3,1151 2215.0,1141 2216.2,1148 2216.5,1147 2216.8,1144 2217.7,1145 2218.8,1135 2219.1,1141 2219.8,1140 2220.2,1124 2221.1,1123 2222.1,1123 2222.9,1120 2222.8,1131 2223.9,1130 2225.3,1131 2225.6,1132 2226.5,1137 2225.9,1146 2227.2,1140 2227.7,1138 2228.2,1150 2230.3,1155 2229.7,1146 2230.0,1152 2230.9,1144 2231.3,1139 2231.8,1147 2233.9,1150 2234.6,1153 2233.8,1149 2234.0,1147 2236.5,1143 2238.4,1159 2238.9,1168 2239.5,1176 2239.8,1171 2239.9,1159 2239.2,1155 2240.7,1152 2241.0,1163 2242.2,1147 2243.0,1149 2244.8,1150 2244.7,1144 2245.5,1141 2245.9,1137 2246.5,1135 2247.7,1133 2247.9,1130 2248.9,1134 2249.3,1144 2249.6,1141 2250.5,1146 2251.2,1146 2251.9,1140 2252.1,1132 2254.0,1133 2254.0,1123 2255.2,1131 2255.0,1138 2255.8,1125 2256.1,1137 2257.8,1136 2258.4,1127 2258.6,1124 2260.0,1120 2260.6,1131 2261.1,1128 2261.4,1131 2261.8,1125 2262.9,1130 2263.1,1127 2264.9,1124 2265.2,1119 2265.7,1131 2266.1,1125 2266.5,1123 2267.8,1125 2267.8,1128 2269.6,1132 2269.7,1136 2269.9,1123 2271.6,1130 2271.4,1135 2272.2,1130 2272.9,1131 2273.8,1127 2274.1,1131 2275.1,1131 2275.7,1131 2276.4,1139 2277.1,1145 2277.7,1145 2278.6,1146 2279.0,1142 2279.9,1145 2280.5,1136 2281.2,1137 2281.8,1135 2282.7,1145 2283.4,1136 2283.9,1136 2284.7,1145 2285.2,1126 2286.0,1126 2286.4,1127 2287.3,1127 2287.8,1125 2288.5,1130 2289.5,1131 2290.0,1130 2290.8,1121 2291.1,1126 2292.1,1120 2292.5,1123 2293.3,1135 2293.9,1132 2294.5,1137 2295.5,1132 2295.9,1129 2296.5,1131 2297.1,1127 2297.9,1133 2298.8,1128 2299.5,1131 2299.8,1133 2300.4,1136 2301.5,1131 2301.7,1136 2302.9,1131 2303.0,1134 2303.6,1130 2304.8,1128 2305.5,1137 2306.0,1140 2307.1,1142 2307.7,1132 2308.2,1134 2308.6,1138 2309.8,1130 2310.5,1142 2310.3,1131 2311.2,1135 2312.4,1135 2312.7,1132 2314.1,1128 2314.1,1131 2314.9,1121 2315.8,1129 2316.6,1126 2317.4,1128 2317.1,1124 2317.8,1123 2318.9,1132 2320.2,1119 2320.3,1129 2321.3,1114 2322.1,1121 2321.8,1123 2323.3,1123 2324.3,1121 2323.8,1130 2324.3,1128 2325.9,1138 2326.1,1133 2327.1,1145 2327.5,1139 2328.7,1139 2328.9,1142 2329.2,1141 2330.3,1134 2331.1,1127 2331.6,1129 2332.3,1125 2332.6,1125 2333.6,1130 2334.5,1127 2334.7,1132 2336.0,1126" fill="none" stroke="#f00" stroke-width="9" stroke-linejoin="round" shape-rendering="crispEdges"/>
<polyline points="278.0,1167 278.7,1172 279.3,1176 280.0,1178 280.6,1175 281.2,1176 281.9,1176 282.5,1176 283.1,1176 283.8,1177 284.4,1178 285.0,1179 285.7,1179 286.4,1178 287.0,1178 287.7,1178 288.4,1178 289.1,1178 289.8,1178 290.5,1178 291.1,1176 291.8,1176 292.5,1176 293.2,1176 293.9,1176 294.5,1175 295.2,1176 295.9,1177 296.6,1177 297.3,1176 298.0,1177 298.6,1176 299.3,1177 300.0,1177 300.7,1177 301.4,1177 302.1,1177 302.8,1176 303.5,1177 304.2,1176 304.9,1176 305.6,1176 306.3,1176 307.0,1176 307.7,1176 308.4,1176 309.1,1176 309.8,1176 310.5,1176 311.2,1175 311.9,1175 312.6,1176 313.3,1175 314.0,1176 314.7,1177 315.3,1177 316.0,1177 316.7,1177 317.4,1177 318.1,1177 318.8,1177 319.5,1177 320.2,1177 320.9,1177 321.6,1177 322.3,1176 323.0,1177 323.7,1177 324.4,1177 325.1,1177 325.8,1177 326.5,1178 327.2,1178 327.9,1178 328.6,1176 329.3,1176 330.0,1176 330.7,1176 331.4,1176 332.1,1176 332.8,1176 333.5,1176 334.2,1176 334.9,1177 335.6,1176 336.3,1176 337.0,1176 337.7,1176 338.4,1176 339.1,1176 339.8,1176 340.5,1176 341.2,1175 341.9,1176 342.6,1176 343.3,1175 344.0,1174 344.7,1174 345.3,1174 346.0,1174 346.7,1174 347.4,1174 348.1,1174 348.8,1174 349.5,1174 350.2,1176 350.9,1177 351.6,1176 352.3,1176 353.0,1177 353.7,1177 354.4,1177 355.1,1176 355.8,1177 356.5,1176 357.2,1176 357.9,1176 358.6,1175 359.3,1175 360.0,1176 360.7,1175 361.4,1176 362.1,1176 362.8,1176 363.4,1176 364.1,1176 364.8,1173 365.5,1173 366.2,1174 366.9,1174 367.6,1173 368.3,1174 369.0,1174 369.7,1173 370.3,1174 371.0,1174 371.7,1174 372.4,1176 373.1,1177 373.8,1176 374.5,1176 375.2,1176 375.9,1176 376.6,1177 377.2,1178 377.9,1178 378.6,1178 379.3,1178 380.0,1178 380.7,1178 381.4,1178 382.1,1177 382.8,1178 383.4,1175 384.1,1176 384.8,1175 385.5,1175 386.2,1175 386.9,1176 387.6,1176 388.3,1176 389.0,1175 389.7,1176 390.3,1176 391.0,1176 391.7,1178 392.4,1178 393.1,1177 393.8,1177 394.5,1178 395.2,1177 395.9,1178 396.6,1178 397.2,1176 397.9,1176 398.6,1176 399.3,1176 400.0,1176 400.7,1176 401.4,1176 402.1,1176 402.8,1176 403.4,1176 404.1,1176 404.8,1176 405.5,1176 406.2,1178 406.9,1178 407.6,1178 408.3,1177 409.0,1177 409.7,1178 410.3,1178 411.0,1178 411.7,1178 412.4,1178 413.1,1178 413.8,1177 414.5,1177 415.2,1177 415.9,1177 416.6,1176 417.2,1177 417.9,1177 418.6,1177 419.3,1177 420.0,1177 420.7,1176 421.4,1176 422.1,1176 422.8,1176 423.4,1176 424.1,1176 424.8,1175 425.5,1176 426.2,1175 426.9,1177 427.6,1177 428.3,1177 429.0,1177 429.7,1177 430.3,1177 431.0,1177 431.7,1176 432.4,1177 433.1,1177 433.8,1177 434.5,1177 435.2,1174 435.9,1174 436.6,1175 437.2,1174 437.9,1174 438.6,1174 439.3,1175 440.0,1175 440.7,1176 441.4,1176 442.1,1176 442.8,1176 443.4,1176 444.1,1176 444.8,1177 445.5,1176 446.2,1177 446.9,1177 447.6,1176 448.3,1176 449.0,1177 449.7,1178 450.3,1177 451.0,1178 451.7,1177 452.4,1178 453.1,1178 453.8,1178 454.5,1177 455.2,1176 455.9,1176 456.6,1176 457.2,1177 457.9,1176 458.6,1176 459.3,1176 460.0,1176 460.7,1176 461.4,1175 462.1,1175 462.8,1176 463.4,1176 464.1,1176 464.8,1175 465.5,1175 466.2,1175 466.9,1175 467.6,1176 468.3,1174 469.0,1174 469.7,1174 470.3,1175 471.0,1175 471.7,1174 472.4,1175 473.1,1175 473.8,1175 474.5,1176 475.2,1176 475.9,1176 476.6,1176 477.2,1177 477.9,1176 478.6,1176 479.3,1177 480.0,1176 480.7,1176 481.4,1175 482.1,1175 482.8,1176 483.4,1176 484.1,1176 484.8,1175 485.5,1175 486.2,1176 486.9,1176 487.6,1176 488.3,1176 489.0,1176 489.7,1176 490.3,1176 491.0,1176 491.7,1176 492.4,1175 493.1,1175 493.8,1175 494.5,1174 495.2,1175 495.9,1175 496.6,1174 497.2,1174 497.9,1174 498.6,1174 499.3,1173 500.0,1174 500.7,1174 501.4,1174 502.1,1173 502.8,1173 503.4,1173 504.1,1173 504.8,1173 505.5,1172 506.2,1173 506.9,1172 507.6,1173 508.3,1173 509.0,1174 509.7,1174 510.3,1174 511.0,1174 511.7,1174 512.4,1174 513.1,1175 513.8,1174 514.5,1174 515.2,1173 515.9,1174 516.6,1174 517.2,1173 517.9,1173 518.6,1173 519.3,1173 520.0,1173 520.7,1173 521.4,1174 522.1,1173 522.8,1174 523.4,1173 524.1,1173 524.8,1173 525.5,1173 526.2,1173 526.9,1173 527.6,1173 528.3,1173 529.0,1173 529.7,1173 530.3,1172 531.0,1172 531.7,1172 532.4,1172 533.1,1173 533.8,1173 534.5,1172 535.2,1173 535.9,1173 536.6,1173 537.2,1172 537.9,1173 538.6,1172 539.3,1173 540.0,1173 540.7,1173 541.4,1173 542.1,1173 542.8,1173 543.4,1173 544.1,1173 544.8,1173 545.5,1174 546.2,1174 546.9,1174 547.6,1174 548.3,1174 549.0,1174 549.7,1174 550.3,1174 551.0,1174 551.7,1174 552.4,1174 553.1,1173 553.8,1173 554.5,1173 555.2,1174 555.9,1173 556.6,1173 557.2,1173 557.9,1173 558.6,1173 559.3,1173 560.0,1173 560.7,1173 561.4,1173 562.1,1173 562.8,1173 563.5,1172 564.2,1172 564.8,1173 565.5,1173 566.2,1172 566.9,1173 567.6,1172 568.3,1172 569.0,1173 569.7,1173 570.4,1174 571.1,1173 571.8,1173 572.5,1173 573.2,1173 573.8,1173 574.5,1173 575.2,1173 575.9,1173 576.6,1172 577.3,1173 578.0,1172 578.7,1173 579.4,1172 580.1,1172 580.8,1171 581.4,1171 582.1,1171 582.8,1171 583.5,1171 584.2,1170 584.9,1170 585.6,1170 586.2,1170 586.9,1171 587.6,1171 588.3,1171 589.0,1170 589.7,1171 590.4,1171 591.1,1171 591.8,1171 592.4,1170 593.1,1170 593.8,1170 594.5,1169 595.2,1169 595.9,1169 596.6,1169 597.2,1168 597.9,1168 598.6,1167 599.3,1168 600.0,1168 600.7,1167 601.4,1168 602.1,1167 602.8,1167 603.4,1167 604.1,1166 604.8,1167 605.5,1168 606.2,1169 606.9,1168 607.6,1168 608.3,1166 609.0,1167 609.7,1166 610.3,1166 611.0,1166 611.7,1166 612.4,1167 613.1,1165 613.8,1165 614.5,1165 615.2,1165 615.9,1164 616.6,1165 617.2,1164 617.9,1164 618.6,1165 619.3,1164 620.0,1163 620.7,1164 621.4,1163 622.1,1163 622.8,1162 623.4,1163 624.1,1162 624.8,1161 625.5,1161 626.2,1161 626.9,1162 627.6,1161 628.3,1163 629.0,1161 629.7,1162 630.3,1161 631.0,1161 631.7,1161 632.4,1159 633.1,1160 633.8,1160 634.5,1161 635.2,1160 635.9,1159 636.6,1160 637.2,1159 637.9,1158 638.6,1157 639.3,1159 640.0,1158 640.7,1157 641.4,1159 642.1,1156 642.8,1155 643.5,1158 644.2,1157 644.9,1156 645.6,1154 646.3,1154 647.0,1153 647.7,1156 648.4,1155 649.1,1154 649.8,1153 650.4,1155 651.2,1155 651.9,1152 652.6,1156 653.2,1156 654.0,1158 654.6,1156 655.4,1157 656.1,1156 656.7,1158 657.4,1157 658.1,1158 658.8,1159 659.5,1156 660.3,1157 660.8,1154 661.6,1156 662.3,1153 663.0,1155 663.7,1157 664.4,1157 665.2,1152 665.7,1154 666.6,1155 667.2,1153 667.9,1156 668.7,1156 669.4,1154 670.1,1153 670.8,1155 671.5,1155 672.2,1154 672.8,1156 673.6,1156 673.9,1152 675.0,1155 675.4,1153 676.4,1151 676.7,1150 677.6,1150 678.3,1147 678.9,1150 679.5,1150 680.3,1152 681.2,1148 682.0,1149 682.5,1149 683.2,1150 683.8,1144 684.5,1146 685.4,1149 686.0,1147 686.5,1142 687.1,1145 687.7,1148 688.9,1144 689.1,1140 689.8,1140 690.7,1144 691.5,1138 692.0,1140 693.0,1137 693.6,1142 694.3,1141 694.9,1136 695.1,1138 696.0,1136 696.7,1137 697.5,1145 697.9,1140 699.0,1139 699.1,1145 700.0,1139 700.8,1136 701.2,1140 702.2,1137 702.6,1141 703.7,1139 704.5,1138 704.7,1133 705.6,1139 706.3,1136 706.7,1134 707.4,1127 708.1,1133 708.9,1129 709.9,1130 710.7,1131 711.0,1130 712.2,1127 712.8,1127 713.2,1127 713.7,1131 714.9,1128 715.1,1129 715.9,1127 716.4,1127 717.4,1127 717.9,1125 718.8,1128 719.4,1125 720.4,1127 720.6,1129 721.6,1124 722.0,1121 722.8,1121 723.3,1119 724.4,1120 724.7,1116 725.8,1116 726.4,1114 726.8,1120 727.7,1114 728.1,1118 728.9,1112 729.3,1117 729.9,1119 730.8,1115 731.7,1109 732.3,1111 733.2,1110 733.6,1107 735.0,1108 735.0,1110 735.8,1107 736.2,1107 737.3,1109 738.5,1108 739.2,1101 739.2,1108 740.6,1104 741.1,1097 741.6,1099 742.2,1097 742.7,1103 743.0,1095 744.2,1093 745.2,1094 744.8,1093 747.2,1091 747.3,1088 747.4,1085 747.9,1082 748.7,1092 749.0,1085 750.3,1076 751.7,1075 750.2,1079 751.6,1070 752.2,1072 753.1,1075 754.9,1073 755.7,1078 755.7,1077 756.0,1088 756.2,1095 756.7,1093 758.9,1094 758.2,1087 759.0,1090 759.8,1087 760.9,1089 761.4,1088 762.5,1081 762.9,1081 763.5,1077 763.7,1072 764.8,1067 765.6,1067 766.2,1064 766.1,1064 767.2,1064 768.1,1070 769.1,1063 769.2,1071 770.1,1070 770.1,1061 771.9,1062 772.4,1061 773.2,1065 773.0,1064 773.3,1064 774.4,1058 775.2,1061 775.4,1049 776.5,1059 776.5,1061 778.3,1065 779.0,1056 778.8,1062 779.7,1052 781.6,1056 780.8,1054 783.0,1054 782.3,1053 783.8,1036 783.9,1036 784.8,1033 784.5,1028 787.5,1024 786.1,1016 786.9,1010 788.1,1012 788.6,1012 788.5,1011 790.5,1012 790.4,1017 790.9,1013 792.1,1017 792.1,1017 793.2,1016 793.9,1010 794.5,1008 794.8,1010 796.2,1009 796.4,1010 797.4,1007 797.1,1003 798.1,1000 799.0,997 799.8,1000 800.9,994 800.8,999 801.8,995 802.6,995 802.7,1002 803.8,1002 804.1,1001 805.1,999 805.5,1006 805.9,998 806.6,998 807.0,1004 808.0,997 808.5,1000 809.7,999 810.0,993 810.9,994 811.8,991 812.3,993 812.5,991 813.8,991 814.3,987 815.1,985 815.5,982 815.6,987 816.4,984 817.8,988 818.4,985 819.0,981 819.3,987 819.9,985 820.9,975 821.3,964 822.5,965 823.8,968 824.8,955 825.1,957 824.5,947 825.3,949 825.2,959 825.9,952 827.3,955 828.1,952 828.8,947 829.9,950 830.0,944 829.9,946 830.8,947 831.5,945 833.5,939 832.8,930 833.5,936 834.4,932 836.0,935 835.3,933 835.7,930 837.7,930 836.5,918 839.4,920 837.7,919 840.5,913 839.5,915 840.8,909 841.0,914 842.8,906 842.2,904 843.3,905 843.9,907 845.0,898 844.5,899 845.7,899 845.9,901 847.7,889 849.7,895 850.3,895 850.6,890 850.5,887 849.8,890 851.9,873 852.5,872 853.9,860 854.3,858 854.8,867 856.0,861 857.2,860 857.9,855 858.5,853 858.2,856 859.4,852 858.3,858 859.0,851 859.4,851 860.6,844 861.1,842 863.5,836 864.5,814 864.4,818 863.9,810 865.7,817 865.0,804 866.3,808 866.1,802 867.2,801 867.8,799 869.5,802 869.1,800 869.2,793 870.3,802 871.3,804 872.4,798 872.3,801 874.1,801 874.2,798 875.2,803 875.6,801 876.1,800 876.7,793 877.4,793 877.9,795 878.8,792 880.3,788 880.6,789 880.6,790 881.3,785 882.8,789 883.3,787 883.9,777 885.6,784 884.2,782 886.0,781 885.8,777 887.9,778 887.7,770 888.0,771 889.7,774 891.0,770 890.7,763 890.6,762 892.8,763 891.7,746 892.3,750 892.8,737 893.6,739 894.2,735 895.8,735 897.0,730 897.8,737 898.1,728 897.6,732 899.7,727 898.8,728 900.3,717 901.5,733 901.2,732 902.8,723 903.8,724 903.3,726 903.5,727 905.8,726 905.0,722 905.5,716 905.7,723 907.7,725 907.8,722 909.0,715 908.4,703 909.3,713 911.7,713 911.6,699 910.7,703 913.1,688 913.8,691 915.3,684 915.7,650 914.8,654 915.9,640 918.3,643 916.6,638 919.4,640 920.1,639 919.3,626 921.2,621 920.6,628 920.3,627 922.6,618 922.6,636 925.0,632 925.3,638 923.9,631 926.8,626 925.5,628 928.1,632 928.5,621 927.1,619 929.4,625 929.2,627 929.4,631 931.6,629 930.2,621 931.7,618 931.5,613 932.1,619 932.9,619 935.2,593 934.8,598 935.2,594 935.9,592 938.2,584 939.4,579 937.9,573 941.1,579 940.8,577 940.6,571 942.2,564 943.8,568 942.5,571 944.2,565 943.8,571 944.9,563 946.8,558 946.8,555 947.7,563 946.6,551 949.0,551 950.2,558 950.4,549 950.5,530 950.0,536 950.2,530 951.7,518 953.4,518 952.6,521 953.9,513 955.2,520 955.2,518 955.4,516 956.3,516 958.3,512 957.6,522 958.5,516 959.7,522 960.6,514 959.6,510 962.4,513 961.1,504 962.3,509 963.5,510 962.8,508 964.1,503 964.6,499 966.7,492 966.5,495 966.6,491 968.5,493 969.1,499 970.0,497 969.8,492 971.2,487 971.6,488 971.8,485 972.4,488 973.2,492 974.4,510 973.3,503 975.6,490 977.2,494 976.8,502 977.7,506 978.9,505 978.4,499 978.6,492 978.4,472 980.0,465 982.2,463 982.9,466 980.9,454 982.7,467 984.6,465 984.9,454 985.9,451 984.9,453 987.4,451 987.5,447 986.2,453 986.7,453 988.0,445 990.2,455 991.3,440 989.2,445 990.9,443 992.5,422 992.1,414 994.0,424 995.1,423 993.2,429 994.9,443 996.3,434 996.2,449 997.7,446 998.0,460 999.4,450 1000.6,438 999.9,441 1000.5,439 1001.1,434 1001.8,427 1002.4,422 1003.0,418 1003.7,413 1004.4,407 1005.1,402 1005.8,400 1006.5,395 1007.1,394 1007.8,389 1008.5,390 1009.2,385 1009.9,381 1010.6,381 1011.2,379 1011.9,380 1012.6,374 1013.3,375 1014.0,373 1014.6,370 1015.3,370 1016.0,369 1016.6,375 1017.3,374 1018.0,371 1018.6,369 1019.3,370 1019.9,365 1020.6,364 1021.2,349 1021.9,346 1022.5,343 1023.2,340 1023.8,341 1024.5,337 1025.1,338 1025.8,341 1026.4,339 1027.1,342 1027.7,346 1028.4,349 1029.0,344 1029.7,346 1030.3,347 1031.0,351 1031.6,351 1032.2,347 1032.8,347 1033.5,340 1034.1,348 1034.7,343 1035.4,352 1036.0,355 1036.7,350 1037.3,358 1038.0,364 1038.7,368 1039.3,375 1040.0,379 1040.7,381 1041.3,375 1042.0,373 1042.7,364 1043.3,359 1044.0,357 1044.7,348 1045.3,344 1046.0,339 1046.7,337 1047.4,334 1048.1,332 1048.8,321 1049.5,321 1050.2,321 1050.9,317 1051.6,316 1052.3,316 1053.0,318 1053.7,319 1054.3,319 1055.0,320 1055.6,322 1056.2,320 1056.9,316 1057.5,313 1058.2,312 1058.8,314 1059.5,310 1060.2,309 1060.9,306 1061.6,300 1062.3,304 1063.0,303 1063.7,297 1064.3,297 1065.0,297 1065.7,291 1066.4,287 1067.1,285 1067.8,284 1068.5,284 1069.2,285 1069.8,285 1070.5,296 1071.2,297 1071.9,296 1072.6,300 1073.3,302 1074.0,301 1074.6,310 1075.3,314 1076.0,317 1076.7,306 1077.4,303 1078.1,296 1078.8,293 1079.5,291 1080.2,280 1080.8,272 1081.5,273 1082.2,265 1082.9,266 1083.6,261 1084.3,258 1084.9,258 1085.6,260 1086.2,262 1086.8,264 1087.5,270 1088.1,269 1088.7,271 1089.4,278 1090.0,284 1090.7,284 1091.3,288 1092.0,283 1092.7,287 1093.3,287 1094.0,292 1094.7,295 1095.3,295 1096.0,299 1096.7,296 1097.4,301 1098.1,311 1098.8,316 1099.5,316 1100.2,321 1100.9,322 1101.6,324 1102.3,322 1103.0,323 1103.7,325 1104.4,309 1105.1,309 1105.8,311 1106.4,313 1107.0,319 1107.6,321 1108.2,321 1108.8,327 1109.4,329 1110.0,328 1110.6,327 1111.3,328 1111.9,332 1112.6,346 1113.2,345 1113.8,349 1114.5,347 1115.1,351 1115.8,354 1116.4,354 1117.0,354 1117.6,352 1118.2,349 1118.8,348 1119.4,342 1120.0,336 1120.6,342 1121.2,348 1121.9,352 1122.5,359 1123.1,364 1123.8,368 1124.4,374 1125.0,379 1125.7,368 1126.3,361 1127.0,359 1127.7,349 1128.3,352 1129.0,344 1129.7,336 1130.3,328 1131.0,317 1131.7,317 1132.4,320 1133.1,322 1133.8,320 1134.5,323 1135.2,325 1135.8,335 1136.5,336 1137.2,335 1137.9,339 1138.6,338 1139.3,343 1140.0,347 1140.7,353 1141.4,357 1142.0,362 1142.7,361 1143.4,369 1144.1,371 1144.8,374 1145.4,366 1146.1,366 1146.8,371 1147.5,371 1148.1,374 1148.8,377 1149.5,381 1150.1,378 1150.8,383 1151.4,379 1152.1,376 1152.7,372 1153.4,366 1154.0,363 1154.6,361 1155.2,365 1155.9,362 1156.5,365 1157.1,365 1157.8,362 1158.4,364 1159.0,363 1159.7,365 1160.3,362 1161.0,363 1161.7,359 1162.3,356 1163.0,357 1163.7,358 1164.3,354 1165.0,354 1165.6,353 1166.2,358 1166.9,362 1167.5,362 1168.1,365 1168.8,368 1169.4,372 1170.0,375 1170.7,376 1171.3,380 1172.0,381 1172.7,385 1173.3,381 1174.0,385 1174.7,389 1175.3,399 1176.0,402 1176.7,406 1177.3,408 1178.0,409 1178.6,394 1179.2,399 1179.9,401 1180.5,410 1181.1,414 1181.8,421 1182.4,424 1183.0,430 1183.7,427 1184.3,436 1185.0,434 1185.7,435 1186.3,439 1187.0,426 1187.7,423 1188.3,417 1189.0,420 1189.7,415 1190.3,408 1191.0,403 1191.6,407 1192.3,401 1192.9,402 1193.6,402 1194.2,406 1194.9,407 1195.5,412 1196.2,418 1196.8,422 1197.5,426 1198.1,426 1198.8,431 1199.4,434 1200.1,438 1200.7,450 1201.4,453 1202.0,455 1202.7,459 1203.3,462 1204.0,467 1204.7,464 1205.3,469 1206.0,474 1206.7,476 1207.3,475 1208.0,473 1208.7,462 1209.3,464 1210.0,465 1210.7,465 1211.4,467 1212.1,471 1212.8,471 1213.5,475 1214.2,476 1214.9,481 1215.0,486 1216.3,486 1215.7,485 1216.5,488 1219.8,498 1219.2,499 1220.6,503 1218.9,511 1219.9,513 1220.9,519 1223.1,521 1223.8,528 1223.8,530 1224.3,525 1224.8,524 1225.6,526 1226.2,527 1227.3,521 1227.6,527 1228.6,521 1229.6,520 1229.9,517 1230.1,519 1231.2,518 1231.4,525 1232.6,528 1233.4,526 1233.3,533 1235.0,530 1235.6,536 1236.0,529 1236.1,529 1238.0,527 1238.2,532 1238.6,532 1239.3,531 1240.0,527 1240.8,533 1241.2,527 1242.0,530 1242.5,532 1243.5,531 1243.8,531 1244.5,532 1244.8,529 1245.6,528 1246.9,533 1247.9,533 1249.2,530 1248.9,537 1250.0,533 1249.9,545 1250.8,545 1251.3,539 1253.7,546 1252.2,549 1254.5,554 1255.6,546 1256.1,549 1254.5,569 1256.3,571 1256.8,583 1258.2,581 1258.7,600 1260.1,591 1258.7,590 1260.0,592 1261.7,588 1262.2,586 1261.7,593 1264.2,581 1263.3,606 1264.9,602 1263.7,611 1266.6,623 1265.8,607 1267.8,622 1267.4,632 1268.7,618 1268.3,622 1269.9,620 1270.4,621 1271.2,624 1271.4,622 1272.6,622 1272.4,620 1273.3,612 1274.1,614 1273.8,618 1275.8,626 1275.7,627 1276.3,625 1276.5,629 1277.0,626 1280.0,637 1280.8,635 1280.0,641 1280.5,639 1282.7,645 1282.3,642 1283.1,646 1283.8,647 1284.1,649 1286.3,648 1286.2,655 1285.4,654 1287.5,666 1287.9,660 1287.1,653 1288.0,664 1289.6,666 1290.0,656 1292.3,665 1292.1,659 1292.7,661 1294.2,662 1293.6,660 1295.1,667 1293.8,660 1296.3,667 1297.1,668 1295.9,679 1297.8,681 1297.5,688 1300.0,684 1300.7,694 1301.3,694 1301.4,701 1301.9,695 1302.3,700 1302.7,696 1303.0,708 1304.9,711 1305.1,702 1305.9,708 1305.5,717 1308.2,720 1308.8,721 1307.7,706 1308.9,711 1310.1,720 1311.1,717 1310.9,722 1311.5,727 1312.7,729 1312.3,727 1314.0,741 1315.2,738 1314.5,737 1315.4,740 1316.6,741 1316.4,741 1317.7,742 1318.4,738 1318.6,739 1320.0,737 1320.5,746 1320.5,737 1321.7,740 1322.1,750 1322.7,738 1323.2,750 1324.6,741 1324.6,744 1326.2,749 1327.1,744 1327.3,755 1327.3,745 1328.9,757 1328.0,751 1329.0,760 1330.9,760 1330.0,760 1330.9,755 1333.0,760 1331.9,759 1333.9,771 1334.8,762 1335.7,771 1336.1,775 1337.0,768 1337.0,776 1338.4,773 1338.1,777 1338.6,776 1339.7,773 1340.5,770 1341.2,770 1341.9,767 1342.5,763 1343.1,760 1343.6,773 1344.6,770 1345.2,767 1346.0,773 1346.8,766 1347.3,775 1348.2,778 1348.3,787 1348.4,786 1350.4,787 1349.7,798 1350.3,800 1352.2,785 1351.8,785 1354.0,779 1353.3,785 1354.4,788 1354.5,790 1355.4,800 1357.8,795 1358.7,806 1358.4,801 1357.2,813 1357.9,812 1358.7,823 1359.5,833 1360.9,825 1360.8,833 1361.8,827 1362.9,825 1364.4,836 1365.4,835 1365.0,836 1366.7,827 1367.0,826 1366.5,827 1366.9,834 1369.0,833 1369.5,840 1369.7,833 1371.0,839 1370.4,838 1371.1,843 1372.5,834 1373.2,835 1374.4,839 1373.8,843 1375.4,852 1375.6,842 1376.3,836 1376.9,835 1377.7,839 1378.1,835 1379.0,836 1379.6,830 1380.1,841 1380.8,833 1381.4,837 1382.1,841 1382.9,840 1384.0,847 1384.0,837 1385.3,849 1385.2,846 1385.2,856 1387.7,858 1388.2,861 1389.1,862 1389.6,867 1389.1,853 1389.8,862 1389.8,871 1390.6,859 1392.3,859 1393.5,854 1393.7,866 1394.3,868 1394.7,864 1395.3,856 1396.0,871 1396.7,869 1397.4,874 1398.1,874 1398.7,863 1399.5,876 1400.2,875 1400.9,863 1401.5,864 1402.2,881 1402.9,868 1403.6,872 1404.2,873 1405.0,879 1405.7,875 1406.3,873 1407.0,874 1407.7,872 1408.3,866 1409.0,870 1409.8,859 1410.5,863 1411.1,857 1411.8,867 1412.6,863 1413.3,862 1413.9,848 1414.6,849 1415.2,852 1416.0,846 1416.7,849 1417.3,849 1418.1,848 1418.7,866 1419.0,853 1419.0,853 1422.1,847 1422.5,857 1423.0,865 1422.7,860 1422.7,861 1423.5,858 1424.8,876 1425.6,868 1425.8,887 1427.8,883 1428.8,875 1427.3,889 1429.8,886 1430.1,897 1429.2,885 1432.0,893 1432.2,893 1433.4,903 1433.8,887 1435.2,899 1435.9,896 1434.9,895 1434.8,888 1437.5,897 1436.7,890 1438.5,891 1437.4,894 1439.8,880 1440.2,871 1441.9,881 1441.1,889 1440.9,872 1441.7,866 1444.5,887 1442.8,871 1445.4,870 1444.5,877 1445.1,872 1447.2,882 1448.8,875 1448.4,885 1448.1,882 1448.2,880 1449.1,889 1451.9,892 1452.8,897 1452.2,899 1451.9,893 1454.1,908 1454.3,908 1455.2,906 1455.7,900 1456.4,900 1457.1,908 1457.8,913 1458.4,913 1459.1,904 1459.8,903 1460.5,905 1461.2,908 1461.9,911 1462.6,905 1463.2,904 1463.9,903 1464.6,903 1465.3,906 1466.1,902 1466.7,910 1467.4,904 1468.4,904 1468.9,908 1469.6,907 1470.2,897 1470.9,907 1471.7,901 1472.4,898 1473.1,901 1473.8,907 1474.5,907 1475.0,897 1475.7,893 1476.4,899 1477.2,906 1478.1,902 1478.5,910 1479.4,909 1479.7,908 1479.9,903 1481.7,913 1482.2,910 1481.7,907 1482.2,900 1483.6,903 1485.9,906 1486.0,910 1486.3,908 1485.9,918 1487.0,916 1488.6,923 1488.3,916 1488.5,926 1489.6,915 1490.0,914 1491.1,928 1493.1,933 1493.8,926 1493.8,940 1494.2,933 1495.5,935 1495.3,944 1496.6,931 1497.1,943 1497.5,940 1498.3,944 1498.9,949 1500.4,935 1500.4,952 1501.5,952 1502.0,951 1502.3,960 1503.7,945 1503.6,951 1504.9,949 1505.1,942 1505.7,945 1507.3,943 1508.1,940 1508.8,938 1508.9,948 1509.3,937 1510.4,945 1510.3,945 1512.6,942 1511.7,935 1511.8,957 1513.7,951 1515.0,950 1515.9,967 1514.5,967 1516.3,977 1516.1,967 1517.8,970 1518.0,979 1518.6,962 1518.8,961 1520.3,968 1521.4,965 1522.1,950 1522.6,963 1523.1,961 1523.4,959 1523.7,954 1525.2,943 1525.2,949 1525.7,951 1527.0,954 1527.5,954 1527.8,944 1529.4,953 1530.3,952 1530.6,956 1531.5,954 1532.3,954 1531.8,967 1533.0,956 1533.6,967 1533.7,958 1535.6,970 1535.6,970 1536.4,961 1537.0,968 1537.6,963 1538.4,955 1539.1,962 1539.8,960 1540.4,962 1541.2,955 1541.7,964 1542.5,958 1543.2,955 1543.9,962 1544.5,956 1545.3,961 1546.0,953 1546.5,975 1547.3,966 1547.9,967 1548.6,977 1549.3,975 1550.0,967 1550.8,978 1551.4,977 1551.8,976 1552.8,968 1553.4,972 1554.1,970 1554.7,970 1555.5,976 1556.1,976 1556.8,975 1557.3,975 1558.2,976 1558.7,971 1559.5,986 1560.1,978 1561.5,984 1562.4,990 1561.6,988 1563.6,1004 1562.9,1008 1563.8,999 1566.1,1001 1565.5,1004 1564.7,1007 1566.8,1003 1567.6,1008 1567.7,1008 1568.8,1005 1569.5,1008 1570.0,1005 1570.6,1009 1571.2,1009 1572.3,1021 1572.8,1007 1573.7,1010 1574.3,1011 1575.0,1019 1575.8,1008 1576.4,1015 1576.9,1022 1577.7,1010 1578.4,1014 1579.2,1017 1579.7,1019 1580.8,1005 1581.1,1003 1581.9,999 1582.8,1011 1583.2,1009 1583.9,1011 1584.6,1000 1585.5,1004 1586.4,1005 1586.7,1002 1587.7,1000 1588.2,1008 1588.8,1009 1589.9,1011 1591.0,1013 1591.6,997 1591.5,1000 1592.4,995 1592.4,1007 1593.9,1000 1593.7,1001 1595.2,993 1595.4,994 1596.2,993 1597.0,1016 1597.5,1014 1598.2,1013 1599.2,1014 1599.5,1018 1600.3,1007 1600.9,1017 1601.7,1022 1602.6,1022 1603.0,998 1603.6,994 1604.6,998 1605.3,997 1605.9,992 1606.6,1006 1607.2,1001 1607.7,994 1608.3,1004 1609.4,1002 1610.0,1000 1610.5,990 1611.5,998 1612.0,991 1612.8,1002 1613.5,989 1614.2,996 1614.8,993 1615.6,992 1616.2,990 1616.8,997 1617.7,1022 1618.4,1012 1619.1,1010 1619.7,1020 1620.3,1019 1621.2,1021 1621.9,1014 1622.6,1012 1623.3,1016 1623.8,1018 1624.5,1020 1625.3,995 1625.9,995 1626.6,1010 1627.5,1015 1628.0,1016 1628.3,1004 1629.9,1004 1629.9,1019 1630.3,1019 1631.4,1012 1631.6,1013 1632.8,1014 1633.5,1006 1634.4,1016 1634.6,1014 1635.7,1017 1636.2,1027 1636.9,1029 1637.8,1017 1638.4,1024 1639.1,1024 1639.9,1025 1640.4,1022 1641.3,1040 1641.8,1032 1642.4,1028 1643.1,1036 1643.8,1029 1644.5,1028 1645.2,1036 1646.0,1032 1646.6,1023 1647.2,1028 1647.9,1021 1648.6,1024 1649.2,1029 1649.9,1029 1650.7,1028 1651.4,1032 1652.1,1024 1652.6,1026 1653.2,1026 1654.0,1025 1654.7,1034 1655.3,1035 1656.0,1029 1656.8,1040 1657.5,1038 1658.1,1036 1658.7,1037 1659.5,1033 1660.1,1015 1660.8,1020 1661.4,1027 1662.0,1019 1662.7,1023 1663.6,1021 1664.2,1028 1664.8,1035 1665.6,1038 1666.3,1033 1666.9,1038 1667.5,1028 1668.3,1036 1669.0,1037 1669.6,1040 1670.3,1040 1671.0,1036 1671.7,1039 1672.4,1040 1673.1,1037 1673.8,1030 1674.5,1042 1675.1,1036 1675.9,1032 1676.5,1035 1677.3,1035 1678.0,1045 1678.7,1039 1679.3,1041 1680.0,1045 1680.7,1031 1681.5,1033 1682.1,1042 1682.8,1041 1683.5,1040 1684.2,1049 1685.0,1050 1685.6,1037 1686.3,1045 1686.9,1040 1687.6,1046 1688.1,1044 1689.0,1039 1689.3,1048 1690.3,1041 1690.9,1021 1691.7,1031 1692.3,1029 1692.8,1034 1694.0,1028 1694.4,1033 1694.8,1025 1695.9,1021 1696.7,1035 1697.5,1037 1697.8,1029 1698.8,1032 1698.8,1034 1700.1,1042 1700.9,1041 1701.2,1032 1702.1,1038 1703.0,1044 1703.1,1044 1704.1,1042 1704.7,1038 1705.4,1050 1706.1,1050 1706.6,1048 1707.4,1039 1708.2,1047 1708.7,1043 1709.4,1050 1710.2,1046 1710.7,1052 1711.5,1053 1712.1,1046 1712.9,1050 1713.4,1045 1714.1,1055 1714.9,1062 1715.6,1061 1716.2,1055 1716.8,1063 1717.4,1055 1718.3,1062 1719.0,1047 1719.5,1051 1720.3,1059 1720.8,1050 1721.5,1049 1722.0,1049 1722.9,1048 1724.0,1045 1724.7,1054 1724.9,1052 1725.6,1050 1726.7,1056 1726.9,1050 1728.1,1055 1728.6,1060 1729.5,1063 1729.9,1058 1730.8,1061 1731.2,1057 1731.9,1063 1733.0,1068 1733.4,1074 1733.8,1063 1734.9,1069 1735.8,1073 1736.2,1070 1736.9,1061 1737.9,1066 1738.2,1074 1738.7,1071 1739.8,1073 1740.5,1076 1741.2,1063 1741.6,1069 1742.5,1064 1743.0,1070 1743.7,1069 1744.4,1077 1745.2,1078 1746.0,1072 1746.6,1069 1747.1,1072 1747.8,1056 1748.4,1069 1749.2,1061 1749.7,1061 1750.6,1058 1751.3,1076 1752.0,1067 1752.4,1075 1753.3,1074 1754.0,1072 1754.7,1080 1755.2,1074 1756.1,1073 1756.8,1069 1757.4,1077 1758.0,1069 1758.9,1075 1759.4,1075 1760.2,1068 1761.0,1074 1761.6,1069 1762.2,1078 1763.0,1061 1763.7,1060 1764.4,1069 1765.2,1070 1765.7,1068 1766.5,1064 1767.2,1067 1767.9,1066 1768.6,1064 1769.3,1058 1770.0,1072 1770.7,1069 1771.4,1066 1772.1,1071 1772.8,1081 1773.4,1079 1774.4,1072 1774.7,1076 1775.7,1073 1776.3,1079 1776.8,1086 1777.9,1085 1778.7,1075 1779.1,1074 1780.0,1081 1780.7,1079 1781.4,1071 1782.0,1077 1782.7,1078 1783.5,1079 1783.9,1084 1784.9,1070 1785.5,1076 1785.9,1072 1786.6,1071 1787.6,1081 1788.2,1081 1789.0,1080 1789.4,1078 1790.2,1071 1790.9,1071 1791.6,1080 1792.4,1080 1793.0,1078 1793.7,1077 1794.5,1072 1795.2,1066 1795.8,1069 1796.7,1067 1797.2,1073 1798.0,1077 1798.7,1082 1799.4,1087 1800.1,1076 1800.8,1085 1801.4,1088 1802.1,1077 1802.9,1078 1803.6,1088 1804.2,1075 1804.9,1086 1805.6,1078 1806.3,1073 1807.0,1069 1807.6,1080 1808.3,1074 1809.1,1076 1809.9,1080 1810.4,1069 1811.2,1079 1811.9,1075 1812.6,1075 1813.3,1078 1814.1,1074 1814.6,1078 1815.5,1083 1816.2,1073 1816.7,1076 1817.4,1078 1818.1,1085 1818.9,1085 1819.6,1078 1820.2,1080 1821.1,1075 1821.7,1095 1822.3,1090 1823.2,1090 1823.7,1102 1824.4,1102 1825.2,1094 1825.7,1098 1826.5,1093 1827.2,1083 1827.8,1079 1828.5,1079 1829.3,1087 1830.1,1079 1830.6,1088 1831.4,1091 1832.1,1082 1832.9,1092 1833.5,1090 1834.3,1083 1834.8,1087 1835.5,1084 1836.4,1088 1836.6,1088 1838.4,1087 1837.4,1085 1839.5,1093 1839.3,1091 1839.5,1101 1841.2,1109 1842.0,1105 1842.1,1114 1842.9,1104 1843.8,1101 1844.3,1103 1845.1,1107 1845.8,1115 1846.3,1117 1847.1,1106 1847.7,1116 1848.4,1111 1849.1,1111 1849.8,1112 1850.4,1111 1851.3,1114 1851.8,1107 1852.4,1104 1853.1,1111 1853.8,1113 1854.6,1113 1855.2,1112 1855.9,1111 1856.7,1112 1857.3,1104 1858.0,1112 1858.6,1110 1859.3,1100 1860.0,1103 1860.6,1110 1861.4,1098 1861.9,1098 1862.8,1098 1863.5,1097 1864.3,1100 1864.8,1105 1865.6,1097 1866.1,1106 1866.9,1099 1867.6,1102 1868.2,1110 1868.9,1099 1869.8,1109 1870.4,1106 1871.2,1107 1871.7,1109 1872.5,1110 1873.0,1108 1873.9,1108 1874.7,1108 1875.2,1110 1876.0,1107 1876.6,1103 1877.3,1115 1878.0,1105 1878.5,1112 1879.5,1109 1880.0,1114 1880.7,1101 1881.4,1103 1882.2,1106 1882.7,1112 1883.4,1107 1884.3,1104 1884.8,1104 1885.6,1111 1886.3,1104 1887.1,1110 1887.6,1103 1888.5,1109 1889.2,1111 1889.9,1108 1890.4,1105 1891.3,1101 1892.0,1114 1892.8,1114 1893.3,1106 1893.9,1103 1894.7,1105 1895.3,1119 1896.0,1114 1896.7,1117 1897.6,1120 1898.1,1115 1898.8,1126 1899.7,1125 1900.4,1110 1900.9,1120 1901.8,1110 1902.4,1119 1903.0,1114 1903.9,1112 1904.4,1119 1905.3,1108 1906.0,1102 1906.7,1106 1907.3,1111 1908.0,1112 1908.7,1108 1909.4,1108 1910.1,1115 1910.8,1106 1911.4,1111 1912.2,1111 1912.9,1112 1913.5,1118 1914.2,1111 1914.9,1106 1915.6,1120 1916.3,1115 1917.0,1112 1917.7,1111 1918.5,1122 1919.2,1118 1919.9,1116 1920.6,1115 1921.3,1123 1922.0,1114 1922.6,1116 1923.3,1128 1924.0,1129 1924.8,1121 1925.4,1129 1926.2,1132 1926.8,1126 1927.5,1125 1928.2,1130 1928.9,1130 1929.6,1116 1930.2,1114 1930.9,1115 1931.8,1108 1932.3,1117 1933.1,1108 1933.9,1103 1934.6,1103 1935.3,1100 1935.8,1109 1936.5,1099 1937.3,1102 1938.1,1107 1938.5,1101 1939.3,1110 1940.1,1114 1940.6,1112 1941.4,1110 1942.1,1113 1942.8,1113 1943.4,1116 1944.2,1121 1944.9,1117 1945.6,1122 1946.3,1121 1946.9,1117 1947.7,1126 1948.3,1122 1949.0,1127 1949.8,1121 1950.5,1120 1951.1,1116 1951.9,1118 1952.6,1120 1953.3,1122 1954.0,1115 1954.7,1121 1955.4,1128 1956.1,1131 1956.8,1123 1957.4,1123 1958.1,1118 1958.8,1137 1959.6,1135 1960.2,1130 1961.0,1126 1961.6,1134 1962.3,1129 1963.0,1126 1963.7,1133 1964.4,1131 1965.1,1136 1965.8,1138 1966.6,1116 1967.2,1125 1968.0,1116 1968.7,1125 1969.3,1115 1970.0,1124 1970.8,1123 1971.6,1119 1971.9,1112 1972.6,1136 1973.3,1126 1974.1,1128 1974.7,1133 1975.8,1131 1976.2,1120 1977.1,1130 1977.8,1127 1978.4,1123 1979.0,1115 1979.9,1119 1980.7,1120 1981.4,1122 1982.0,1120 1982.6,1122 1983.1,1118 1983.9,1122 1984.6,1108 1985.5,1118 1986.0,1109 1986.7,1112 1987.3,1107 1988.1,1112 1988.9,1115 1989.5,1112 1990.2,1113 1990.8,1108 1991.7,1105 1992.2,1110 1992.9,1116 1993.8,1112 1994.8,1113 1995.3,1113 1996.1,1108 1996.2,1106 1996.8,1114 1998.1,1114 1998.6,1117 1999.6,1108 1999.9,1112 2000.1,1121 2001.2,1123 2002.0,1124 2002.8,1118 2003.0,1128 2004.1,1126 2004.5,1133 2004.8,1133 2006.3,1131 2007.0,1127 2007.2,1128 2007.5,1139 2008.2,1136 2009.6,1139 2010.0,1136 2010.7,1133 2011.3,1124 2012.0,1132 2012.8,1125 2013.4,1126 2014.1,1117 2014.8,1118 2015.4,1114 2016.2,1122 2016.9,1111 2017.5,1131 2018.1,1124 2018.8,1122 2019.8,1124 2020.4,1131 2021.0,1121 2021.8,1125 2022.3,1110 2023.3,1115 2023.9,1115 2024.5,1117 2025.3,1119 2026.1,1109 2026.6,1118 2027.2,1119 2027.9,1117 2028.6,1109 2029.2,1129 2029.9,1120 2030.7,1124 2031.6,1122 2032.0,1132 2033.0,1120 2033.5,1115 2034.3,1116 2034.9,1116 2035.5,1115 2036.3,1123 2037.1,1122 2037.7,1116 2038.4,1119 2039.1,1126 2039.8,1126 2040.3,1132 2041.2,1120 2041.7,1127 2042.6,1128 2043.2,1128 2044.0,1125 2044.6,1132 2045.2,1124 2046.0,1127 2046.6,1128 2047.3,1132 2048.0,1133 2048.7,1123 2049.3,1129 2050.0,1125 2050.9,1122 2051.7,1123 2052.1,1119 2052.9,1116 2053.7,1114 2054.3,1122 2054.9,1119 2055.8,1121 2056.5,1123 2057.3,1117 2057.7,1114 2058.5,1115 2059.0,1122 2059.8,1116 2060.7,1118 2061.2,1124 2062.0,1115 2062.7,1118 2063.5,1123 2064.1,1123 2064.8,1122 2065.4,1143 2066.1,1135 2066.8,1135 2067.6,1133 2068.2,1145 2068.9,1143 2069.5,1135 2070.3,1142 2070.9,1143 2071.7,1137 2072.4,1136 2073.0,1142 2073.7,1140 2074.4,1143 2075.2,1138 2075.8,1140 2076.5,1142 2077.3,1136 2077.9,1144 2078.6,1137 2079.2,1135 2079.9,1144 2080.7,1136 2081.3,1130 2082.1,1142 2082.7,1132 2083.5,1138 2084.2,1136 2084.8,1127 2085.4,1127 2086.0,1133 2086.7,1133 2087.4,1130 2088.4,1132 2088.6,1122 2089.3,1125 2090.5,1122 2091.1,1132 2091.7,1121 2092.5,1121 2092.7,1125 2093.6,1122 2094.5,1130 2095.0,1120 2095.4,1128 2096.2,1119 2096.8,1130 2097.3,1123 2098.0,1125 2098.9,1122 2099.8,1124 2100.4,1126 2101.1,1123 2101.9,1146 2103.0,1141 2102.4,1144 2104.3,1139 2103.9,1145 2105.3,1138 2105.2,1137 2106.9,1142 2107.3,1143 2107.9,1137 2108.0,1130 2109.2,1132 2110.4,1137 2110.9,1144 2110.6,1128 2111.6,1127 2113.2,1133 2113.1,1136 2113.3,1144 2114.4,1140 2115.4,1148 2116.2,1139 2116.6,1139 2117.3,1141 2118.1,1149 2119.0,1146 2119.3,1155 2120.1,1144 2120.7,1150 2121.8,1150 2122.1,1157 2122.8,1148 2123.6,1149 2124.5,1140 2124.9,1139 2125.4,1143 2126.5,1143 2126.8,1139 2127.9,1146 2128.5,1138 2128.9,1139 2130.0,1124 2130.3,1129 2131.2,1131 2132.0,1122 2132.5,1129 2133.0,1125 2134.2,1123 2134.6,1121 2135.2,1121 2135.8,1121 2136.8,1121 2137.4,1131 2137.9,1122 2138.5,1123 2139.3,1132 2139.9,1125 2140.9,1120 2141.4,1122 2142.2,1133 2142.9,1130 2143.7,1126 2144.1,1133 2144.7,1126 2145.8,1137 2146.0,1135 2147.0,1136 2147.5,1136 2148.4,1131 2149.1,1142 2149.9,1133 2150.4,1146 2151.3,1143 2152.0,1139 2152.8,1134 2153.1,1141 2153.9,1137 2154.7,1140 2155.6,1135 2156.1,1132 2156.9,1129 2157.1,1135 2158.2,1141 2158.7,1133 2159.3,1129 2159.7,1137 2160.7,1138 2161.5,1142 2161.9,1138 2162.6,1131 2163.4,1129 2164.0,1137 2164.8,1145 2165.3,1147 2166.2,1143 2166.9,1148 2167.5,1141 2168.2,1149 2169.0,1140 2169.4,1145 2170.2,1147 2170.9,1141 2171.5,1139 2172.1,1148 2172.9,1141 2173.3,1152 2174.4,1141 2174.8,1141 2175.5,1150 2176.3,1146 2176.9,1147 2177.8,1156 2178.2,1151 2178.8,1146 2179.6,1144 2180.2,1149 2180.7,1151 2181.5,1151 2182.5,1141 2183.1,1145 2183.7,1147 2184.4,1145 2185.1,1150 2185.8,1147 2186.4,1147 2187.1,1146 2187.8,1146 2188.5,1148 2189.2,1154 2189.9,1155 2190.6,1138 2191.3,1148 2192.0,1147 2192.6,1149 2193.3,1145 2194.0,1150 2194.7,1144 2195.4,1137 2196.1,1149 2196.8,1147 2197.5,1148 2198.2,1149 2198.9,1146 2199.5,1147 2200.2,1154 2200.9,1154 2201.6,1151 2202.3,1152 2203.0,1155 2203.7,1143 2204.4,1155 2205.1,1147 2205.7,1143 2206.4,1155 2207.1,1145 2207.8,1143 2208.5,1148 2209.2,1142 2209.8,1153 2210.5,1153 2211.2,1154 2211.9,1147 2212.6,1156 2213.3,1148 2213.9,1155 2214.5,1153 2215.2,1142 2215.9,1146 2216.6,1146 2217.2,1148 2217.9,1152 2218.6,1148 2219.3,1143 2220.0,1145 2220.7,1152 2221.4,1152 2221.9,1142 2222.6,1146 2223.3,1144 2224.1,1152 2224.8,1149 2225.6,1150 2226.3,1151 2226.6,1153 2227.2,1153 2227.9,1157 2228.6,1156 2229.7,1138 2230.1,1147 2231.1,1143 2231.8,1137 2232.5,1138 2233.1,1140 2233.5,1137 2234.2,1144 2234.8,1143 2235.7,1143 2236.1,1138 2237.2,1141 2237.6,1143 2238.1,1132 2238.8,1135 2239.9,1132 2240.3,1132 2241.3,1137 2241.8,1130 2242.5,1130 2242.9,1131 2243.9,1138 2244.5,1129 2245.4,1136 2246.0,1140 2246.9,1139 2247.5,1148 2247.8,1138 2248.8,1135 2249.2,1141 2249.9,1140 2250.7,1150 2251.5,1149 2252.2,1143 2252.8,1150 2253.7,1148 2254.4,1158 2254.9,1148 2255.7,1153 2256.0,1160 2256.9,1162 2257.4,1157 2258.5,1158 2259.1,1163 2259.8,1162 2260.5,1165 2261.1,1162 2261.5,1159 2262.1,1148 2263.0,1158 2263.7,1154 2264.4,1155 2264.9,1147 2265.7,1159 2266.3,1153 2267.1,1146 2267.8,1149 2268.5,1148 2269.1,1152 2269.8,1146 2270.5,1148 2271.2,1152 2271.9,1149 2272.5,1150 2273.2,1149 2273.9,1154 2274.5,1161 2275.3,1153 2275.9,1153 2276.6,1156 2277.3,1159 2278.0,1151 2278.7,1153 2279.4,1145 2280.1,1151 2280.7,1143 2281.4,1155 2282.1,1155 2282.8,1144 2283.4,1153 2284.2,1152 2284.8,1144 2285.6,1146 2286.2,1146 2286.9,1148 2287.5,1152 2288.2,1155 2289.0,1165 2289.6,1164 2290.3,1154 2291.0,1150 2291.7,1160 2292.4,1160 2293.0,1152 2293.9,1159 2294.5,1157 2295.2,1154 2295.9,1161 2296.6,1160 2297.1,1150 2298.0,1160 2298.6,1147 2299.3,1159 2299.9,1156 2300.8,1153 2301.4,1155 2302.1,1158 2302.8,1148 2303.6,1156 2304.1,1151 2304.8,1149 2305.7,1145 2306.2,1155 2307.1,1152 2307.6,1159 2308.3,1152 2309.1,1146 2309.8,1146 2310.6,1146 2311.2,1146 2311.9,1148 2312.4,1153 2313.3,1157 2314.0,1152 2314.7,1156 2315.3,1155 2316.1,1147 2316.7,1147 2317.5,1141 2318.1,1146 2318.7,1143 2319.5,1148 2320.1,1141 2320.8,1148 2321.4,1142 2322.3,1150 2322.9,1144 2323.7,1146 2324.4,1152 2325.0,1141 2325.7,1151 2326.4,1142 2327.1,1152 2327.7,1148 2328.4,1142 2329.2,1150 2329.8,1148 2330.4,1145 2331.1,1149 2331.8,1143 2332.6,1153 2333.1,1156 2333.9,1154 2334.7,1160 2335.3,1165 2336.0,1155" fill="none" stroke="#00f" stroke-width="9" stroke-linejoin="round" shape-rendering="crispEdges"/>
<polyline points="278.5,1059 279.0,1090 279.5,1120 280.0,1140 280.6,1142 281.2,1144 281.8,1146 282.4,1148 283.0,1150 283.7,1152 284.3,1153 285.0,1155 285.6,1156 286.2,1157 286.8,1158 287.4,1159 288.0,1160 288.7,1161 289.3,1163 290.0,1163 290.7,1165 291.3,1166 292.0,1167 292.7,1168 293.3,1169 294.0,1170 294.7,1171 295.3,1172 296.0,1173 296.7,1173 297.3,1173 298.0,1174 298.7,1173 299.3,1174 300.0,1174 300.7,1174 301.3,1175 302.0,1175 302.7,1175 303.4,1175 304.1,1175 304.8,1175 305.5,1175 306.2,1175 306.9,1175 307.6,1175 308.3,1175 309.0,1175 309.7,1175 310.4,1175 311.1,1175 311.8,1175 312.5,1175 313.2,1175 313.9,1175 314.6,1175 315.3,1175 316.0,1175 316.7,1175 317.4,1175 318.1,1175 318.8,1175 319.5,1175 320.2,1175 320.9,1175 321.6,1175 322.3,1174 323.0,1174 323.7,1174 324.4,1174 325.1,1174 325.8,1174 326.5,1174 327.2,1174 327.9,1174 328.6,1174 329.3,1174 330.0,1174 330.7,1174 331.4,1174 332.1,1174 332.8,1174 333.5,1174 334.2,1174 334.9,1174 335.6,1174 336.3,1174 337.0,1174 337.7,1175 338.4,1175 339.1,1175 339.8,1175 340.5,1175 341.2,1175 341.9,1175 342.6,1175 343.3,1176 344.0,1176 344.7,1175 345.3,1176 346.0,1175 346.7,1176 347.4,1175 348.1,1176 348.8,1176 349.5,1176 350.2,1176 350.9,1176 351.6,1176 352.3,1176 353.0,1175 353.7,1176 354.4,1176 355.1,1176 355.8,1176 356.5,1176 357.2,1176 357.9,1176 358.6,1176 359.3,1176 360.0,1176 360.7,1176 361.4,1176 362.1,1176 362.8,1176 363.4,1176 364.1,1176 364.8,1176 365.5,1176 366.2,1176 366.9,1176 367.6,1176 368.3,1176 369.0,1176 369.7,1175 370.3,1176 371.0,1175 371.7,1175 372.4,1176 373.1,1176 373.8,1175 374.5,1176 375.2,1175 375.9,1175 376.6,1175 377.2,1175 377.9,1175 378.6,1175 379.3,1175 380.0,1175 380.7,1175 381.4,1175 382.1,1175 382.8,1175 383.4,1175 384.1,1175 384.8,1176 385.5,1176 386.2,1175 386.9,1175 387.6,1175 388.3,1175 389.0,1176 389.7,1176 390.3,1176 391.0,1176 391.7,1176 392.4,1176 393.1,1176 393.8,1176 394.5,1176 395.2,1176 395.9,1176 396.6,1176 397.2,1176 397.9,1176 398.6,1176 399.3,1176 400.0,1176 400.7,1176 401.4,1176 402.1,1176 402.8,1176 403.4,1176 404.1,1176 404.8,1176 405.5,1176 406.2,1176 406.9,1176 407.6,1176 408.3,1176 409.0,1176 409.7,1176 410.3,1177 411.0,1177 411.7,1177 412.4,1177 413.1,1176 413.8,1176 414.5,1176 415.2,1176 415.9,1176 416.6,1176 417.2,1176 417.9,1175 418.6,1175 419.3,1176 420.0,1176 420.7,1175 421.4,1176 422.1,1176 422.8,1176 423.4,1176 424.1,1176 424.8,1176 425.5,1176 426.2,1176 426.9,1176 427.6,1176 428.3,1176 429.0,1176 429.7,1176 430.3,1175 431.0,1175 431.7,1176 432.4,1175 433.1,1176 433.8,1175 434.5,1176 435.2,1176 435.9,1175 436.6,1176 437.2,1176 437.9,1176 438.6,1176 439.3,1176 440.0,1176 440.7,1176 441.4,1176 442.1,1176 442.8,1176 443.4,1177 444.1,1176 444.8,1178 445.5,1178 446.2,1177 446.9,1177 447.6,1178 448.3,1178 449.0,1178 449.7,1177 450.3,1177 451.0,1177 451.7,1178 452.4,1175 453.1,1175 453.8,1175 454.5,1175 455.2,1175 455.9,1177 456.6,1177 457.2,1177 457.9,1177 458.6,1177 459.3,1177 460.0,1177 460.7,1177 461.4,1177 462.1,1177 462.8,1177 463.4,1177 464.1,1177 464.8,1175 465.5,1175 466.2,1175 466.9,1175 467.6,1175 468.3,1175 469.0,1175 469.7,1175 470.3,1175 471.0,1176 471.7,1176 472.4,1176 473.1,1176 473.8,1176 474.5,1176 475.2,1176 475.9,1175 476.6,1176 477.2,1176 477.9,1176 478.6,1175 479.3,1176 480.0,1175 480.7,1176 481.4,1175 482.1,1175 482.8,1176 483.4,1175 484.1,1176 484.8,1175 485.5,1176 486.2,1175 486.9,1176 487.6,1175 488.3,1175 489.0,1175 489.7,1175 490.3,1176 491.0,1176 491.7,1175 492.4,1175 493.1,1176 493.8,1176 494.5,1176 495.2,1176 495.9,1176 496.6,1176 497.2,1175 497.9,1176 498.6,1176 499.3,1176 500.0,1176 500.7,1176 501.4,1176 502.1,1176 502.8,1177 503.4,1176 504.1,1177 504.8,1176 505.5,1177 506.2,1176 506.9,1177 507.6,1176 508.3,1176 509.0,1176 509.7,1176 510.3,1176 511.0,1176 511.7,1175 512.4,1175 513.1,1175 513.8,1176 514.5,1176 515.2,1175 515.9,1175 516.6,1175 517.2,1175 517.9,1175 518.6,1175 519.3,1175 520.0,1176 520.7,1177 521.4,1176 522.1,1176 522.8,1177 523.4,1175 524.1,1176 524.8,1175 525.5,1175 526.2,1176 526.9,1175 527.6,1176 528.3,1175 529.0,1175 529.7,1175 530.3,1175 531.0,1175 531.7,1175 532.4,1175 533.1,1175 533.8,1175 534.5,1175 535.2,1175 535.9,1176 536.6,1176 537.2,1176 537.9,1176 538.6,1176 539.3,1176 540.0,1176 540.7,1176 541.4,1173 542.1,1174 542.8,1174 543.4,1174 544.1,1174 544.8,1174 545.5,1174 546.2,1174 546.9,1174 547.6,1174 548.3,1174 549.0,1173 549.7,1173 550.3,1175 551.0,1175 551.7,1174 552.4,1174 553.1,1174 553.8,1175 554.5,1175 555.2,1174 555.9,1175 556.6,1175 557.2,1175 557.9,1175 558.6,1175 559.3,1175 560.0,1175 560.7,1175 561.4,1175 562.1,1175 562.8,1175 563.4,1174 564.1,1175 564.8,1175 565.5,1175 566.2,1174 566.9,1175 567.6,1175 568.3,1175 569.0,1174 569.7,1174 570.3,1174 571.0,1175 571.7,1175 572.4,1175 573.1,1175 573.8,1175 574.5,1175 575.2,1175 575.9,1174 576.6,1174 577.2,1174 577.9,1174 578.6,1174 579.3,1174 580.0,1173 580.7,1174 581.4,1173 582.1,1174 582.8,1173 583.4,1173 584.1,1173 584.8,1174 585.5,1173 586.2,1174 586.9,1173 587.6,1173 588.3,1173 589.0,1173 589.7,1173 590.3,1172 591.0,1172 591.7,1172 592.4,1172 593.1,1172 593.8,1173 594.5,1173 595.2,1172 595.9,1172 596.6,1172 597.2,1172 597.9,1172 598.6,1172 599.3,1172 600.0,1172 600.7,1172 601.4,1172 602.1,1172 602.8,1171 603.4,1171 604.1,1171 604.8,1171 605.5,1171 606.2,1171 606.9,1170 607.6,1171 608.3,1170 609.0,1170 609.7,1171 610.3,1171 611.0,1171 611.7,1171 612.4,1171 613.1,1170 613.8,1171 614.5,1170 615.2,1170 615.9,1169 616.6,1170 617.2,1169 617.9,1169 618.6,1169 619.3,1169 620.0,1169 620.7,1169 621.4,1169 622.1,1169 622.8,1169 623.4,1169 624.1,1169 624.8,1169 625.5,1169 626.2,1168 626.9,1169 627.6,1169 628.3,1168 629.0,1168 629.7,1169 630.3,1168 631.0,1169 631.7,1168 632.4,1169 633.1,1168 633.8,1168 634.5,1168 635.2,1168 635.9,1167 636.6,1169 637.2,1168 637.9,1166 638.6,1167 639.3,1166 640.0,1167 640.7,1165 641.4,1166 642.1,1165 642.8,1166 643.4,1165 644.1,1164 644.8,1164 645.5,1166 646.2,1164 646.9,1164 647.6,1164 648.3,1164 649.0,1163 649.7,1165 650.3,1166 651.1,1166 651.8,1165 652.3,1165 653.1,1164 653.7,1165 654.5,1164 655.2,1165 655.9,1167 656.6,1164 657.3,1165 657.9,1166 658.7,1164 659.2,1163 660.0,1162 660.8,1163 661.3,1162 662.1,1164 662.8,1165 663.6,1165 664.2,1164 664.8,1162 665.4,1161 666.2,1162 666.8,1160 667.5,1162 668.2,1160 669.1,1160 669.7,1161 670.3,1161 671.0,1158 671.6,1161 672.3,1157 673.1,1158 673.7,1158 674.4,1157 675.2,1154 675.8,1154 676.7,1158 677.3,1155 677.8,1154 678.8,1156 679.3,1154 679.8,1157 680.6,1156 681.4,1156 682.1,1157 682.7,1151 683.3,1153 684.0,1151 684.6,1150 685.3,1153 685.9,1152 686.6,1151 687.3,1150 687.9,1148 688.6,1152 689.4,1156 690.1,1155 690.5,1152 691.5,1152 692.3,1154 692.7,1153 693.6,1155 694.1,1153 694.7,1152 695.7,1156 696.2,1155 696.9,1154 697.7,1149 698.5,1149 698.9,1148 699.5,1147 700.2,1150 700.8,1144 701.7,1143 702.5,1143 703.1,1149 704.0,1151 704.6,1146 705.0,1148 705.6,1150 706.7,1148 707.3,1148 707.9,1147 708.6,1142 709.4,1143 710.1,1146 710.8,1142 711.2,1146 711.9,1144 712.7,1140 713.3,1144 714.1,1142 714.7,1143 715.4,1140 716.3,1140 717.0,1139 717.7,1142 718.1,1143 719.1,1140 719.7,1142 720.4,1140 721.0,1142 721.6,1141 722.5,1144 723.1,1142 723.8,1142 724.5,1139 725.3,1144 725.7,1143 726.5,1139 727.3,1141 727.9,1141 728.4,1140 729.6,1138 730.1,1143 730.5,1143 731.1,1137 731.9,1136 732.8,1144 733.2,1137 733.8,1133 734.7,1133 735.4,1132 736.0,1135 737.1,1131 737.7,1132 738.4,1131 738.8,1128 739.5,1135 740.2,1132 741.0,1127 741.5,1131 742.4,1133 743.3,1131 743.8,1135 744.5,1133 745.1,1131 746.0,1129 746.5,1129 747.5,1122 748.2,1126 748.9,1127 749.7,1123 750.0,1122 750.3,1118 751.2,1118 752.2,1118 752.8,1123 753.0,1124 754.1,1124 754.6,1124 755.5,1122 756.1,1123 757.2,1123 757.5,1120 758.2,1121 759.3,1123 759.7,1117 760.6,1114 760.5,1118 761.9,1112 762.4,1119 762.7,1115 764.0,1115 763.9,1114 764.6,1110 766.0,1115 766.3,1115 766.6,1109 767.5,1108 768.8,1112 769.4,1108 769.5,1106 770.0,1109 771.7,1105 771.8,1107 773.0,1109 773.6,1101 774.4,1098 774.5,1100 774.9,1092 775.6,1095 777.3,1099 777.7,1095 778.3,1097 778.8,1097 779.2,1097 780.3,1095 780.6,1090 781.8,1096 782.3,1088 783.2,1090 784.2,1084 784.7,1089 785.3,1087 786.3,1083 785.9,1084 787.0,1083 788.7,1074 788.4,1074 789.3,1071 790.6,1075 791.4,1078 791.0,1073 791.3,1075 792.8,1067 792.7,1062 793.8,1060 795.4,1060 794.6,1060 795.5,1064 796.7,1066 797.7,1058 797.8,1065 798.8,1060 800.1,1063 800.0,1053 800.8,1063 801.6,1059 801.7,1053 802.8,1062 803.7,1056 804.9,1058 805.2,1051 805.8,1050 806.4,1057 807.6,1052 808.4,1054 808.3,1052 809.2,1054 809.4,1046 810.8,1054 811.6,1045 811.4,1051 812.2,1052 813.5,1045 813.8,1044 814.8,1043 815.7,1047 816.3,1047 817.4,1046 818.0,1024 816.8,1023 819.5,1025 820.0,1024 820.6,1025 821.5,1017 821.1,1013 821.5,1011 823.0,1021 823.2,1022 823.3,1016 825.0,1021 825.6,1018 826.2,1017 827.1,1015 826.7,1013 828.2,1016 828.4,1017 828.9,1016 829.6,1012 830.0,1010 831.3,1009 831.7,1012 832.4,1012 832.7,1013 834.9,1012 835.1,1008 834.3,1011 836.1,998 836.9,1005 837.2,1002 839.2,1000 839.3,993 840.4,990 840.9,990 841.9,991 841.2,991 841.0,988 842.1,991 842.5,982 844.3,986 845.0,984 845.6,979 845.1,983 846.1,978 846.8,981 847.0,983 847.8,977 848.7,975 849.0,974 850.5,967 851.4,966 850.8,970 852.6,962 853.1,962 853.6,966 854.3,954 854.7,954 855.5,959 855.1,945 857.5,946 856.8,949 857.3,944 857.8,936 858.6,941 859.9,934 859.6,932 861.6,933 861.2,931 862.4,929 863.0,928 862.7,935 864.7,930 864.8,928 865.8,930 865.5,924 867.6,933 868.1,933 869.0,932 869.4,926 868.8,918 869.9,920 871.5,923 870.8,917 871.8,911 872.0,910 872.8,908 873.1,907 875.3,907 875.3,911 876.4,917 875.7,908 877.1,909 877.0,915 878.8,908 879.4,903 879.0,908 880.2,905 880.4,905 880.8,903 882.0,895 882.3,874 884.7,870 883.9,873 885.7,873 886.5,867 887.1,865 886.9,865 888.3,860 889.2,862 889.5,865 890.2,854 890.8,851 889.6,859 892.2,846 892.5,845 893.8,849 894.2,833 894.7,836 895.8,827 896.4,826 895.9,823 895.6,818 897.2,827 897.9,823 898.7,821 898.8,817 899.1,821 899.6,823 902.2,817 901.1,818 903.1,809 902.3,814 904.4,809 904.1,807 904.7,820 904.8,817 905.5,808 907.6,812 908.9,811 907.7,809 908.2,804 909.8,806 911.9,801 911.8,805 911.5,798 914.1,791 914.7,795 913.4,787 914.1,780 915.4,773 916.0,774 918.1,765 919.3,767 917.4,756 919.2,766 919.8,766 920.5,756 922.2,756 923.1,761 922.7,740 924.4,733 924.1,730 923.6,735 924.0,742 925.2,734 926.3,733 928.3,738 927.8,732 928.0,735 928.9,729 929.5,734 929.6,733 930.7,726 931.2,722 933.3,722 934.4,724 933.7,719 934.8,717 936.1,714 936.0,717 936.5,712 938.5,717 937.8,715 938.6,707 939.5,708 939.9,708 941.9,689 942.2,696 942.6,694 943.0,690 944.5,683 945.4,682 944.7,674 946.9,671 945.4,655 946.2,644 946.8,647 947.8,644 950.4,641 948.2,638 949.9,647 950.4,654 950.2,641 950.9,651 952.2,642 953.2,642 953.4,642 956.4,636 956.9,631 957.4,622 958.4,624 956.8,625 957.3,622 959.7,614 958.3,588 960.2,594 962.0,580 960.9,583 963.8,588 964.4,574 964.5,576 963.6,580 964.5,576 965.5,578 966.9,573 965.9,579 968.8,579 967.8,574 968.1,576 969.2,574 971.1,563 971.0,570 970.7,559 973.1,553 972.6,560 974.6,554 975.0,555 974.3,556 976.1,556 976.9,559 976.8,557 978.6,561 979.3,556 978.7,558 981.0,545 980.1,542 981.0,540 980.2,547 981.9,540 984.0,540 982.2,538 985.2,528 984.3,529 985.5,523 985.0,519 986.1,513 987.1,506 988.4,511 989.3,514 990.0,511 991.2,506 991.4,506 990.7,498 990.7,504 993.6,496 993.3,493 994.4,492 993.4,496 996.4,488 997.4,486 996.7,483 998.4,480 999.0,482 998.1,482 998.2,483 1000.9,473 1001.0,463 1001.4,462 1002.0,467 1001.4,457 1003.4,445 1005.4,447 1005.9,471 1006.7,466 1004.6,458 1007.2,460 1006.5,448 1007.8,450 1008.4,440 1008.7,438 1009.1,443 1010.6,431 1011.3,428 1011.9,429 1012.6,428 1013.2,424 1013.9,420 1014.5,425 1015.2,425 1015.8,421 1016.5,423 1017.2,418 1017.8,418 1018.5,418 1019.1,407 1019.8,402 1020.5,402 1021.1,399 1021.8,400 1022.4,397 1023.1,400 1023.8,397 1024.4,393 1025.1,394 1025.7,387 1026.4,388 1027.1,388 1027.7,396 1028.4,394 1029.0,394 1029.7,397 1030.4,397 1031.0,396 1031.7,396 1032.3,394 1033.0,395 1033.7,394 1034.3,395 1035.0,398 1035.6,397 1036.3,409 1037.0,406 1037.7,407 1038.4,405 1039.1,402 1039.8,396 1040.4,394 1041.1,374 1041.8,370 1042.5,367 1043.2,367 1043.9,365 1044.6,362 1045.3,374 1045.9,368 1046.6,366 1047.3,369 1048.0,369 1048.6,369 1049.3,366 1050.0,362 1050.6,350 1051.3,348 1052.0,348 1052.6,345 1053.3,342 1054.0,340 1054.7,348 1055.3,345 1056.0,343 1056.7,343 1057.4,348 1058.0,347 1058.7,357 1059.4,358 1060.1,361 1060.8,364 1061.4,365 1062.1,368 1062.8,359 1063.5,355 1064.2,350 1064.8,346 1065.5,347 1066.2,340 1066.9,340 1067.6,334 1068.3,333 1069.0,326 1069.6,322 1070.3,318 1071.0,318 1071.7,316 1072.3,301 1073.0,299 1073.7,300 1074.3,306 1075.0,301 1075.7,304 1076.3,321 1077.0,318 1077.7,315 1078.3,315 1079.0,317 1079.7,314 1080.3,315 1081.0,298 1081.7,301 1082.3,302 1083.0,305 1083.7,306 1084.3,307 1085.0,309 1085.7,318 1086.3,319 1087.0,324 1087.7,330 1088.3,328 1089.0,331 1089.7,327 1090.3,325 1091.0,326 1091.6,323 1092.3,321 1093.0,321 1093.6,302 1094.3,296 1095.0,293 1095.6,292 1096.3,303 1096.9,299 1097.6,298 1098.3,294 1099.0,291 1099.6,291 1100.3,288 1101.0,287 1101.7,277 1102.4,275 1103.1,270 1103.8,268 1104.4,262 1105.1,262 1105.8,256 1106.5,259 1107.1,260 1107.8,263 1108.5,261 1109.1,255 1109.8,256 1110.5,260 1111.1,261 1111.8,263 1112.5,266 1113.1,264 1113.8,268 1114.5,271 1115.1,289 1115.8,293 1116.5,292 1117.2,294 1117.9,295 1118.6,294 1119.2,298 1119.9,297 1120.6,296 1121.3,297 1122.0,298 1122.7,295 1123.4,295 1124.1,294 1124.8,301 1125.5,295 1126.2,291 1126.9,293 1127.6,290 1128.3,271 1129.0,271 1129.7,271 1130.3,273 1131.0,273 1131.7,280 1132.3,284 1133.0,285 1133.7,289 1134.3,289 1135.0,295 1135.7,287 1136.4,281 1137.1,281 1137.8,276 1138.5,273 1139.2,269 1139.9,267 1140.6,271 1141.3,268 1142.0,268 1142.7,269 1143.3,272 1144.0,274 1144.7,279 1145.3,278 1146.0,289 1146.7,293 1147.3,293 1148.0,298 1148.7,301 1149.4,300 1150.0,303 1150.7,311 1151.4,313 1152.0,312 1152.7,315 1153.4,305 1154.0,309 1154.7,310 1155.4,309 1156.0,311 1156.7,312 1157.4,317 1158.1,315 1158.7,317 1159.4,316 1160.1,318 1160.7,319 1161.4,332 1162.1,331 1162.7,331 1163.4,331 1164.1,329 1164.7,328 1165.4,326 1166.1,323 1166.7,322 1167.4,321 1168.0,322 1168.7,321 1169.4,318 1170.0,317 1170.7,318 1171.3,301 1172.0,299 1172.7,298 1173.3,300 1174.0,294 1174.7,298 1175.3,309 1176.0,309 1176.6,313 1177.3,315 1178.0,315 1178.6,316 1179.3,321 1180.0,321 1180.6,313 1181.3,318 1181.9,315 1182.6,319 1183.2,323 1183.9,327 1184.5,331 1185.2,334 1185.8,333 1186.5,346 1187.1,345 1187.8,348 1188.4,344 1189.1,345 1189.7,348 1190.4,353 1191.0,354 1191.7,354 1192.3,341 1193.0,344 1193.7,347 1194.3,346 1195.0,348 1195.7,347 1196.4,349 1197.0,356 1197.7,357 1198.4,362 1199.0,361 1199.7,364 1200.4,361 1201.1,359 1201.8,361 1202.4,358 1203.1,368 1203.8,369 1204.5,369 1205.2,365 1205.9,364 1206.6,363 1207.3,367 1207.9,364 1208.6,365 1209.3,362 1210.0,364 1210.7,363 1211.4,362 1212.1,361 1212.7,351 1213.4,351 1214.1,352 1214.8,357 1215.5,357 1216.2,357 1216.8,358 1217.5,357 1218.2,367 1218.9,367 1219.6,369 1220.3,370 1220.9,370 1221.6,371 1222.3,370 1223.0,375 1223.7,377 1224.3,380 1224.7,379 1225.9,382 1226.2,385 1226.5,389 1226.9,402 1229.3,398 1228.2,398 1230.0,404 1229.7,404 1230.4,390 1232.1,397 1232.6,399 1232.5,408 1234.7,410 1235.3,416 1235.7,415 1236.9,420 1236.7,426 1237.3,426 1238.0,431 1238.7,425 1239.3,425 1240.0,428 1240.7,430 1241.3,432 1242.0,428 1242.7,427 1243.4,431 1244.0,429 1244.7,427 1245.4,427 1246.0,426 1246.3,422 1247.4,434 1248.2,435 1247.8,437 1249.0,444 1249.7,450 1250.1,453 1253.0,430 1253.2,428 1251.5,435 1253.3,440 1255.2,435 1256.2,451 1255.1,446 1255.7,458 1256.4,455 1257.4,462 1257.9,472 1259.2,475 1259.4,473 1260.7,485 1261.7,490 1262.2,487 1261.8,493 1262.8,494 1262.8,493 1263.8,490 1264.9,505 1266.6,511 1266.6,514 1267.0,508 1267.2,516 1267.7,524 1270.4,506 1269.4,503 1271.6,515 1271.6,511 1270.4,515 1271.5,522 1273.9,519 1274.7,532 1274.9,523 1274.1,529 1274.8,533 1276.2,531 1276.7,534 1277.8,539 1277.9,536 1278.1,540 1280.7,544 1281.3,542 1281.1,545 1281.8,552 1283.5,550 1283.2,547 1284.0,552 1285.3,559 1286.7,561 1286.9,574 1287.6,571 1287.8,564 1287.6,573 1288.4,579 1288.3,585 1290.1,577 1289.7,570 1290.8,581 1292.9,568 1293.3,582 1293.0,580 1295.2,587 1295.1,588 1295.6,586 1295.6,586 1296.2,594 1297.9,590 1299.3,596 1299.3,606 1299.7,603 1300.3,604 1301.3,618 1301.8,611 1301.5,621 1304.0,625 1303.5,620 1304.4,618 1305.8,627 1305.9,625 1306.0,626 1308.1,627 1309.4,624 1308.9,626 1309.8,615 1310.6,614 1311.9,613 1312.6,627 1311.7,626 1313.3,627 1313.8,631 1314.1,632 1314.5,621 1315.6,649 1315.9,638 1318.0,652 1317.0,646 1317.5,653 1319.2,654 1320.8,655 1321.5,653 1320.9,650 1321.3,655 1322.7,660 1323.6,647 1323.7,650 1324.3,661 1326.1,654 1327.0,656 1325.7,654 1327.6,669 1328.8,664 1329.8,670 1330.5,672 1331.3,678 1331.6,687 1331.3,676 1332.0,690 1332.7,681 1332.2,682 1332.7,693 1334.3,692 1335.1,701 1336.7,695 1336.9,692 1337.3,695 1339.6,707 1339.9,711 1339.5,698 1340.0,694 1341.6,697 1342.1,692 1343.2,695 1343.7,718 1345.3,718 1344.5,717 1345.1,718 1345.5,721 1347.8,719 1346.1,734 1349.2,734 1349.3,736 1349.2,736 1349.0,735 1350.0,737 1351.2,741 1353.8,741 1352.7,743 1353.3,772 1354.6,767 1356.0,775 1355.2,778 1356.8,784 1355.8,779 1357.1,793 1359.4,799 1357.9,793 1358.4,783 1360.7,791 1360.8,796 1363.1,802 1362.6,776 1363.3,783 1365.0,770 1364.5,774 1365.9,779 1366.1,783 1367.2,790 1367.2,790 1368.6,791 1369.3,788 1369.0,784 1370.4,798 1370.5,788 1371.5,791 1372.2,799 1371.9,795 1374.1,795 1374.2,803 1374.5,802 1374.8,794 1375.1,814 1376.3,816 1377.2,818 1378.1,820 1378.8,823 1379.3,815 1379.4,805 1381.7,805 1381.9,807 1380.8,810 1382.4,808 1383.1,803 1384.5,803 1384.4,811 1386.6,823 1386.1,828 1386.1,826 1386.1,835 1388.3,846 1388.6,833 1389.2,836 1389.4,849 1390.6,851 1392.2,849 1392.4,844 1393.2,843 1392.4,842 1393.3,850 1394.0,849 1395.3,845 1396.1,843 1396.3,856 1398.1,851 1398.7,844 1398.8,858 1399.0,866 1400.0,869 1401.2,870 1400.7,883 1401.8,881 1402.6,877 1403.3,875 1403.7,879 1404.5,874 1405.5,859 1406.3,866 1406.8,868 1407.2,849 1408.4,848 1408.9,861 1409.1,855 1410.4,856 1410.8,856 1410.9,852 1412.7,857 1412.7,852 1412.5,854 1414.5,854 1414.6,854 1415.7,867 1416.5,875 1417.8,871 1417.6,870 1418.6,865 1420.0,882 1419.0,874 1421.0,888 1420.6,889 1421.7,894 1422.5,891 1423.0,889 1423.5,884 1424.6,886 1425.1,884 1425.8,889 1426.6,880 1426.9,890 1427.5,900 1428.3,896 1429.2,900 1429.9,907 1430.3,898 1431.1,895 1431.8,900 1432.5,901 1433.1,907 1434.2,907 1434.9,907 1434.6,887 1435.8,896 1437.7,881 1438.1,881 1437.0,892 1439.2,886 1439.6,894 1438.9,902 1441.0,894 1440.2,896 1442.8,909 1441.6,914 1443.0,927 1443.6,925 1444.1,931 1445.0,921 1446.7,928 1446.9,921 1447.4,937 1448.6,935 1449.6,930 1449.6,957 1449.6,951 1451.1,964 1451.6,957 1452.2,947 1453.2,948 1453.7,958 1454.5,954 1455.3,959 1456.0,948 1456.4,946 1456.9,949 1458.0,950 1458.4,940 1459.4,953 1460.1,950 1460.5,943 1461.0,955 1461.8,948 1462.8,952 1463.4,951 1463.9,956 1464.5,959 1465.5,959 1465.9,957 1466.7,960 1467.4,967 1468.1,968 1468.7,969 1469.5,966 1470.1,963 1470.8,962 1471.7,963 1472.4,951 1473.0,962 1473.8,954 1474.5,954 1475.0,963 1476.0,955 1476.4,962 1477.3,956 1477.8,949 1478.3,956 1479.0,953 1480.4,953 1479.4,961 1482.6,960 1480.6,970 1481.6,963 1482.4,975 1483.5,976 1483.2,983 1485.3,977 1485.4,982 1485.9,987 1487.5,986 1487.9,984 1488.1,978 1488.5,982 1490.0,972 1490.7,987 1490.6,972 1491.9,963 1492.4,974 1493.7,961 1493.4,972 1495.0,973 1495.2,963 1495.6,957 1496.9,959 1496.4,965 1496.8,968 1498.3,957 1500.6,973 1499.3,959 1500.3,964 1501.3,972 1501.4,967 1501.5,976 1502.5,971 1502.8,988 1505.2,997 1506.8,995 1506.2,998 1507.3,1007 1506.3,1014 1507.0,1003 1508.9,1009 1509.9,1016 1510.5,1021 1511.1,1015 1511.5,1010 1512.3,1016 1513.0,1020 1513.7,1016 1514.5,1007 1515.7,1015 1515.6,1008 1517.0,1007 1517.8,1006 1518.5,1007 1519.2,1008 1519.4,1009 1520.1,985 1521.3,991 1521.9,991 1522.4,989 1522.9,991 1524.0,992 1523.9,990 1524.9,987 1525.7,1002 1526.4,991 1527.6,1001 1527.7,992 1528.2,999 1528.7,1006 1530.3,1002 1530.9,1005 1530.7,1005 1532.4,1007 1532.1,999 1533.2,1009 1533.6,1015 1534.9,1002 1535.4,1017 1535.8,1027 1536.6,1023 1537.3,1032 1538.0,1024 1538.8,1029 1539.5,1026 1540.1,1032 1540.8,1037 1541.6,1032 1542.1,1028 1542.8,1028 1543.7,1023 1544.2,1031 1544.9,1027 1545.5,1023 1546.8,1022 1547.1,1030 1547.9,1036 1548.7,1032 1549.0,1020 1549.5,1025 1550.3,1026 1551.0,1026 1551.9,1030 1552.5,1033 1553.5,1025 1554.3,1031 1554.4,1035 1555.1,1035 1556.3,1041 1556.8,1035 1557.4,1028 1558.0,1029 1558.8,1041 1559.4,1035 1560.1,1042 1561.0,1040 1561.4,1044 1562.0,1051 1562.7,1044 1563.7,1040 1564.1,1048 1565.1,1047 1566.4,1055 1566.8,1050 1567.3,1041 1568.3,1054 1568.9,1052 1569.5,1056 1570.2,1044 1571.1,1045 1571.8,1045 1572.3,1052 1572.8,1046 1574.0,1051 1574.5,1048 1574.9,1053 1575.7,1048 1576.1,1045 1576.7,1045 1577.6,1055 1578.3,1053 1578.9,1046 1579.6,1048 1580.5,1047 1580.9,1055 1581.9,1061 1582.5,1063 1583.1,1062 1583.7,1052 1584.5,1058 1585.1,1057 1585.9,1056 1586.6,1059 1587.1,1063 1587.8,1059 1588.5,1061 1589.2,1057 1589.8,1059 1590.6,1055 1591.2,1059 1591.9,1051 1592.5,1061 1593.4,1053 1594.0,1057 1594.8,1052 1595.1,1060 1596.0,1062 1597.0,1055 1597.3,1052 1598.3,1065 1599.0,1051 1599.4,1050 1600.0,1061 1600.8,1054 1601.5,1057 1602.2,1053 1603.0,1056 1603.4,1054 1604.4,1064 1605.1,1063 1605.5,1054 1606.4,1067 1607.3,1057 1608.1,1055 1608.5,1054 1609.0,1047 1609.9,1046 1610.8,1050 1611.3,1049 1612.1,1058 1613.1,1052 1613.7,1052 1613.7,1052 1615.0,1050 1615.3,1054 1616.1,1043 1617.1,1055 1617.4,1051 1617.8,1045 1618.3,1053 1619.2,1047 1620.6,1046 1621.0,1040 1621.0,1049 1621.9,1040 1622.7,1039 1623.5,1048 1624.1,1045 1624.7,1046 1625.4,1046 1626.2,1046 1627.1,1048 1627.6,1064 1628.3,1061 1628.6,1064 1630.0,1067 1631.0,1061 1631.6,1069 1632.4,1065 1632.4,1068 1633.8,1068 1634.3,1052 1634.7,1055 1635.4,1065 1636.4,1068 1636.5,1056 1637.7,1067 1637.7,1064 1638.7,1060 1639.9,1066 1640.5,1063 1640.9,1069 1641.7,1072 1642.4,1071 1643.0,1071 1643.7,1065 1644.4,1066 1645.1,1073 1645.8,1071 1646.4,1069 1647.1,1075 1647.8,1077 1648.5,1068 1649.2,1078 1649.8,1074 1650.5,1081 1651.2,1076 1651.9,1070 1652.6,1078 1653.2,1067 1653.9,1079 1654.6,1067 1655.3,1074 1656.0,1072 1656.6,1080 1657.3,1074 1658.0,1069 1658.8,1076 1659.5,1075 1660.0,1077 1660.8,1077 1661.5,1074 1662.2,1074 1663.0,1071 1663.5,1067 1664.1,1069 1665.0,1064 1665.7,1083 1666.2,1072 1667.2,1072 1667.8,1072 1668.3,1076 1669.1,1081 1669.9,1068 1670.4,1077 1671.2,1074 1672.0,1071 1672.7,1086 1673.4,1076 1673.9,1083 1674.8,1086 1675.5,1086 1675.8,1077 1676.9,1084 1677.8,1086 1677.9,1082 1678.6,1086 1679.5,1080 1680.0,1085 1680.8,1077 1681.9,1069 1682.0,1071 1683.0,1076 1684.0,1076 1684.4,1072 1684.9,1080 1685.7,1077 1686.2,1082 1687.3,1070 1688.0,1069 1688.6,1068 1689.4,1073 1689.7,1078 1690.5,1065 1691.2,1066 1691.8,1080 1692.3,1071 1693.3,1076 1694.5,1074 1694.9,1071 1695.9,1073 1696.0,1085 1696.5,1085 1697.4,1078 1697.9,1083 1698.6,1084 1699.8,1085 1700.4,1083 1701.0,1096 1701.4,1085 1702.2,1086 1703.3,1096 1703.3,1093 1704.5,1097 1705.1,1099 1705.4,1106 1707.0,1098 1707.7,1093 1707.9,1100 1709.1,1106 1709.0,1094 1709.9,1089 1710.7,1098 1711.4,1098 1712.1,1086 1712.8,1090 1713.5,1094 1714.2,1085 1714.9,1084 1715.6,1096 1716.3,1089 1717.0,1091 1717.7,1084 1718.4,1091 1719.1,1083 1719.8,1080 1720.5,1084 1721.2,1084 1721.8,1079 1722.5,1081 1723.2,1082 1723.9,1080 1724.6,1092 1725.3,1094 1726.0,1098 1726.7,1089 1727.4,1097 1728.1,1086 1728.8,1096 1729.5,1094 1730.2,1089 1730.9,1090 1731.6,1091 1732.3,1091 1733.0,1099 1733.7,1099 1734.4,1107 1735.0,1104 1735.8,1093 1736.4,1090 1737.1,1101 1737.8,1095 1738.5,1101 1739.2,1094 1739.8,1103 1740.5,1104 1741.2,1094 1741.9,1095 1742.6,1097 1743.3,1098 1744.0,1103 1744.6,1094 1745.3,1098 1746.0,1098 1746.7,1105 1747.4,1093 1748.1,1099 1748.8,1094 1749.5,1101 1750.2,1092 1750.8,1094 1751.5,1097 1752.2,1094 1752.9,1091 1753.6,1091 1754.3,1093 1754.9,1106 1755.6,1097 1756.3,1105 1756.7,1104 1758.2,1096 1758.2,1106 1758.5,1111 1759.3,1111 1760.7,1100 1760.4,1115 1762.2,1113 1762.4,1107 1763.4,1108 1764.1,1104 1764.0,1100 1765.4,1103 1765.4,1099 1766.9,1119 1767.6,1120 1767.5,1114 1768.0,1115 1768.9,1128 1769.7,1123 1770.5,1116 1771.1,1118 1771.7,1111 1772.4,1120 1773.1,1114 1773.7,1118 1774.2,1116 1775.1,1113 1775.7,1106 1776.2,1109 1777.1,1108 1777.7,1109 1778.2,1110 1779.0,1110 1779.6,1114 1780.4,1104 1780.8,1114 1782.0,1108 1782.2,1111 1783.4,1116 1783.2,1118 1784.9,1115 1785.2,1120 1786.0,1121 1786.8,1112 1787.1,1115 1787.3,1117 1788.5,1116 1789.1,1126 1790.2,1122 1790.7,1125 1791.0,1128 1791.7,1134 1793.0,1123 1793.5,1127 1793.6,1129 1794.5,1128 1795.2,1129 1795.7,1123 1796.6,1134 1797.6,1128 1798.0,1128 1798.7,1140 1799.7,1131 1800.3,1135 1800.9,1137 1801.7,1129 1801.9,1136 1802.6,1135 1803.4,1126 1804.2,1132 1805.1,1131 1805.7,1119 1805.8,1113 1806.5,1111 1807.3,1111 1808.0,1105 1808.5,1109 1809.7,1108 1810.1,1116 1810.5,1115 1811.4,1109 1811.9,1116 1812.8,1115 1813.3,1119 1814.1,1118 1814.6,1121 1815.6,1122 1816.0,1124 1817.0,1118 1817.5,1121 1818.2,1118 1818.8,1113 1819.6,1125 1820.3,1115 1820.8,1126 1821.6,1117 1822.3,1117 1822.9,1124 1823.8,1125 1824.4,1115 1824.9,1114 1825.7,1125 1826.2,1120 1827.0,1127 1827.8,1118 1828.4,1126 1829.1,1122 1829.6,1120 1830.3,1129 1830.8,1124 1831.8,1123 1832.4,1121 1833.0,1126 1833.8,1126 1834.3,1135 1835.0,1133 1835.9,1134 1836.4,1127 1837.0,1127 1837.8,1126 1838.3,1136 1839.0,1133 1839.7,1124 1840.5,1130 1841.3,1112 1841.8,1117 1842.6,1120 1843.3,1117 1844.0,1123 1844.7,1113 1845.4,1125 1846.1,1113 1846.8,1124 1847.5,1120 1848.1,1122 1848.9,1125 1849.6,1118 1850.2,1126 1850.9,1119 1851.6,1124 1852.4,1126 1853.0,1126 1853.7,1120 1854.3,1125 1855.2,1116 1855.9,1125 1856.5,1123 1857.3,1117 1857.9,1116 1858.7,1124 1859.3,1116 1859.9,1126 1861.0,1122 1861.2,1114 1861.9,1121 1862.8,1127 1863.6,1126 1864.0,1117 1864.8,1121 1865.4,1127 1866.1,1118 1867.0,1125 1867.4,1123 1868.3,1124 1868.9,1127 1869.9,1120 1870.6,1114 1871.2,1126 1871.6,1121 1872.7,1117 1873.1,1128 1874.1,1128 1874.8,1129 1875.4,1116 1876.2,1129 1876.4,1125 1877.3,1125 1877.8,1119 1878.8,1128 1879.3,1120 1880.4,1123 1880.6,1128 1881.7,1123 1882.2,1128 1882.6,1128 1883.5,1122 1884.3,1125 1884.9,1129 1885.6,1135 1886.4,1133 1887.1,1134 1887.7,1129 1888.5,1128 1889.0,1130 1889.6,1134 1890.6,1125 1891.2,1127 1891.8,1130 1892.6,1128 1893.2,1124 1894.0,1135 1894.6,1133 1895.2,1125 1896.1,1130 1896.8,1131 1897.5,1131 1898.2,1125 1899.0,1137 1899.4,1134 1900.2,1140 1900.8,1134 1901.7,1136 1902.4,1142 1903.0,1137 1903.5,1135 1904.2,1136 1905.2,1148 1905.6,1144 1906.5,1142 1907.1,1146 1907.8,1147 1908.3,1143 1908.9,1140 1909.9,1142 1910.3,1142 1911.0,1139 1911.9,1135 1912.7,1134 1913.1,1129 1914.0,1129 1914.6,1135 1915.1,1132 1915.8,1125 1916.5,1130 1917.1,1134 1917.7,1127 1918.8,1136 1919.2,1125 1919.9,1125 1920.5,1125 1921.1,1135 1922.2,1136 1922.5,1134 1923.4,1136 1924.0,1137 1924.7,1139 1925.3,1139 1926.0,1130 1926.7,1139 1927.4,1142 1928.0,1140 1928.7,1131 1929.5,1137 1930.1,1132 1930.7,1128 1931.4,1127 1932.1,1131 1932.9,1123 1933.5,1128 1934.2,1135 1934.8,1134 1935.5,1136 1936.3,1135 1936.9,1128 1937.7,1138 1938.3,1133 1938.9,1135 1939.7,1139 1940.3,1136 1941.0,1138 1941.7,1139 1942.3,1139 1943.2,1137 1943.8,1138 1944.5,1134 1945.2,1142 1945.9,1121 1946.6,1117 1947.3,1127 1948.1,1125 1948.8,1120 1949.3,1125 1950.1,1121 1950.8,1130 1951.5,1135 1952.2,1126 1952.9,1125 1953.5,1130 1954.3,1122 1955.0,1125 1955.7,1121 1956.3,1121 1957.1,1131 1957.8,1124 1958.4,1123 1959.4,1133 1960.0,1132 1960.4,1136 1961.4,1136 1962.0,1141 1962.8,1134 1963.5,1139 1964.3,1140 1965.0,1133 1965.7,1137 1966.3,1138 1966.9,1138 1967.8,1138 1968.4,1137 1968.9,1141 1969.6,1131 1970.5,1144 1971.1,1144 1971.8,1144 1972.6,1140 1973.1,1137 1973.9,1144 1974.6,1146 1975.4,1156 1976.0,1144 1976.6,1151 1977.3,1148 1978.3,1158 1978.9,1154 1979.3,1153 1980.2,1161 1980.9,1144 1981.5,1153 1982.3,1141 1982.9,1151 1983.7,1147 1984.3,1147 1985.0,1145 1985.7,1146 1986.4,1151 1987.1,1155 1987.7,1152 1988.4,1148 1989.0,1155 1989.8,1151 1990.5,1158 1991.2,1159 1991.7,1154 1992.5,1157 1993.2,1161 1993.8,1158 1994.5,1138 1995.2,1135 1995.9,1142 1996.5,1139 1997.3,1137 1997.9,1137 1998.6,1140 1999.3,1132 1999.9,1153 2000.6,1146 2001.3,1150 2002.0,1144 2002.7,1143 2003.4,1140 2004.0,1142 2004.7,1147 2005.4,1135 2006.1,1139 2006.8,1145 2007.5,1153 2008.2,1150 2008.9,1156 2009.6,1145 2010.3,1156 2011.0,1157 2011.7,1148 2012.4,1152 2013.1,1150 2013.8,1155 2014.5,1155 2015.2,1146 2015.9,1145 2016.6,1143 2017.3,1153 2018.0,1155 2018.7,1155 2019.4,1152 2020.1,1156 2020.8,1148 2021.5,1150 2022.2,1140 2022.9,1149 2023.6,1150 2024.3,1146 2025.0,1142 2025.7,1154 2026.4,1151 2027.1,1144 2027.7,1146 2028.7,1142 2029.0,1150 2029.6,1147 2030.5,1149 2031.2,1145 2031.9,1145 2032.6,1146 2033.0,1153 2033.9,1155 2034.5,1146 2035.5,1148 2035.7,1152 2036.6,1159 2037.1,1159 2038.1,1151 2038.6,1156 2039.1,1151 2039.9,1148 2040.8,1152 2041.4,1152 2042.0,1142 2042.4,1145 2043.5,1143 2043.9,1153 2044.7,1139 2045.3,1139 2046.0,1139 2046.6,1141 2047.2,1141 2048.3,1149 2048.5,1141 2049.3,1151 2050.3,1144 2050.7,1151 2051.5,1156 2052.2,1151 2053.1,1155 2053.6,1146 2054.4,1155 2054.7,1144 2055.8,1135 2056.5,1138 2057.0,1142 2057.4,1141 2058.4,1142 2058.9,1140 2059.8,1146 2060.2,1147 2061.1,1159 2061.6,1162 2062.7,1149 2063.1,1163 2063.9,1156 2064.8,1163 2065.0,1149 2065.8,1156 2066.6,1151 2067.6,1153 2068.1,1163 2068.7,1155 2069.3,1156 2070.1,1159 2070.8,1152 2071.4,1160 2072.2,1154 2072.8,1162 2073.5,1152 2074.3,1157 2074.9,1149 2075.6,1150 2076.2,1155 2077.0,1145 2077.7,1149 2078.3,1145 2079.1,1149 2079.8,1155 2080.4,1150 2081.2,1151 2081.8,1157 2082.5,1157 2083.2,1153 2083.9,1159 2084.6,1149 2085.3,1145 2085.9,1144 2086.7,1150 2087.3,1147 2088.1,1157 2088.7,1152 2089.4,1153 2090.1,1161 2090.8,1163 2091.5,1154 2092.2,1156 2092.9,1160 2093.5,1160 2094.3,1161 2095.0,1155 2095.6,1164 2096.3,1160 2097.1,1159 2097.5,1157 2098.6,1165 2098.9,1146 2100.0,1159 2100.4,1155 2101.3,1151 2101.8,1158 2102.7,1153 2103.1,1155 2104.1,1142 2104.7,1147 2105.0,1149 2105.9,1146 2106.6,1158 2107.2,1154 2108.2,1149 2108.6,1144 2109.2,1148 2110.0,1135 2110.8,1137 2111.5,1138 2112.0,1145 2113.0,1145 2113.2,1138 2114.1,1142 2114.5,1144 2115.2,1142 2116.1,1143 2116.9,1143 2117.7,1138 2118.0,1147 2119.2,1145 2119.9,1152 2120.5,1141 2121.0,1143 2121.9,1148 2122.2,1145 2122.8,1152 2123.9,1145 2124.4,1146 2125.3,1151 2125.9,1146 2126.5,1142 2126.9,1153 2127.8,1146 2128.8,1144 2128.9,1154 2129.9,1149 2130.8,1143 2131.1,1145 2131.7,1144 2132.9,1149 2133.0,1147 2134.2,1156 2134.8,1151 2135.5,1148 2135.9,1151 2136.5,1147 2137.1,1151 2137.9,1157 2139.0,1156 2139.3,1161 2140.2,1150 2140.8,1150 2141.5,1152 2142.2,1157 2142.8,1161 2143.5,1156 2144.1,1152 2144.9,1154 2145.7,1148 2146.4,1160 2146.8,1160 2147.8,1158 2148.4,1161 2149.0,1161 2149.7,1153 2150.4,1158 2150.9,1159 2151.8,1161 2152.4,1166 2153.0,1163 2153.9,1166 2154.4,1160 2155.2,1162 2156.0,1157 2156.6,1166 2157.2,1161 2157.8,1164 2158.6,1153 2159.2,1155 2160.0,1153 2160.7,1156 2161.3,1167 2162.0,1159 2162.7,1161 2163.4,1170 2164.0,1164 2164.7,1159 2165.4,1162 2166.1,1151 2166.8,1156 2167.5,1153 2168.2,1160 2168.8,1157 2169.5,1154 2170.2,1152 2170.9,1151 2171.6,1162 2172.3,1156 2172.9,1151 2173.6,1164 2174.3,1157 2175.0,1162 2175.7,1144 2176.4,1150 2177.0,1152 2177.7,1142 2178.4,1148 2179.1,1164 2179.8,1166 2180.5,1154 2181.2,1156 2181.9,1162 2182.5,1157 2183.2,1164 2183.9,1161 2184.6,1155 2185.3,1152 2186.0,1166 2186.6,1162 2187.3,1169 2188.0,1168 2188.7,1170 2189.4,1171 2190.0,1159 2190.7,1164 2191.5,1174 2192.1,1168 2192.7,1162 2193.4,1164 2194.1,1173 2194.8,1164 2195.5,1172 2196.2,1162 2196.8,1163 2197.6,1169 2198.3,1162 2198.9,1162 2199.7,1172 2200.3,1168 2201.1,1171 2201.6,1165 2202.3,1163 2203.0,1171 2203.7,1163 2204.4,1163 2205.0,1162 2205.8,1166 2206.4,1167 2207.1,1166 2207.8,1158 2208.4,1165 2209.0,1156 2209.9,1157 2210.7,1168 2211.2,1165 2212.1,1157 2212.8,1162 2213.1,1160 2214.1,1154 2214.5,1153 2215.2,1159 2216.1,1165 2216.9,1152 2217.1,1158 2217.9,1162 2218.5,1156 2219.2,1156 2219.8,1157 2220.6,1147 2221.3,1154 2221.9,1153 2222.7,1155 2223.4,1157 2224.1,1150 2224.8,1154 2225.5,1147 2226.2,1156 2226.9,1161 2227.5,1156 2228.3,1154 2229.0,1150 2229.6,1155 2230.4,1159 2231.0,1151 2231.7,1149 2232.4,1146 2233.1,1145 2233.8,1156 2234.5,1156 2235.2,1152 2235.9,1150 2236.6,1152 2237.3,1150 2237.9,1149 2238.9,1149 2239.4,1157 2240.1,1161 2240.8,1151 2241.3,1160 2241.9,1151 2242.6,1162 2243.2,1159 2244.2,1148 2244.8,1152 2245.4,1156 2245.9,1157 2246.6,1150 2247.6,1160 2248.1,1158 2248.8,1167 2249.8,1166 2250.5,1166 2251.0,1162 2251.4,1170 2252.4,1166 2253.0,1171 2253.8,1178 2254.5,1180 2255.1,1173 2255.6,1175 2256.4,1170 2257.2,1176 2257.7,1171 2258.5,1173 2259.0,1170 2259.7,1168 2260.4,1161 2261.0,1167 2261.8,1169 2262.6,1157 2263.3,1167 2263.8,1159 2264.5,1162 2265.3,1155 2266.0,1152 2266.7,1165 2267.3,1159 2268.0,1159 2268.6,1158 2269.3,1163 2270.0,1165 2270.7,1155 2271.5,1154 2272.0,1156 2272.9,1157 2273.3,1156 2274.1,1156 2274.7,1152 2275.5,1146 2276.4,1151 2276.7,1149 2277.3,1149 2278.3,1150 2278.8,1147 2279.4,1153 2280.4,1158 2280.9,1147 2281.6,1156 2282.3,1154 2283.0,1164 2283.6,1163 2284.5,1157 2285.3,1158 2285.9,1157 2286.2,1166 2287.0,1158 2288.0,1166 2288.5,1168 2289.1,1163 2290.0,1160 2290.6,1161 2291.2,1162 2291.9,1173 2292.4,1175 2293.5,1176 2293.9,1175 2294.9,1169 2295.4,1167 2296.0,1161 2296.7,1164 2297.3,1170 2298.1,1171 2298.7,1168 2299.5,1171 2300.2,1165 2300.8,1178 2301.5,1169 2302.2,1174 2302.9,1178 2303.7,1174 2304.3,1172 2304.9,1180 2305.6,1167 2306.4,1174 2307.1,1179 2307.7,1166 2308.4,1166 2309.1,1163 2309.8,1169 2310.4,1171 2311.1,1163 2311.9,1166 2312.6,1169 2313.2,1157 2313.9,1165 2314.6,1162 2315.3,1159 2316.1,1162 2316.7,1167 2317.4,1172 2318.1,1169 2318.8,1173 2319.5,1166 2320.1,1168 2320.9,1173 2321.5,1162 2322.2,1170 2322.8,1176 2323.6,1168 2324.3,1168 2325.0,1174 2325.7,1172 2326.4,1165 2327.0,1163 2327.8,1174 2328.4,1170 2329.1,1164 2329.7,1164 2330.5,1174 2331.2,1170 2331.9,1167 2332.6,1176 2333.2,1164 2334.0,1168 2334.7,1176 2335.3,1163 2336.0,1169" fill="none" stroke="#0f0" stroke-width="9" stroke-linejoin="round" shape-rendering="crispEdges"/>
</g>
<rect x="270.5" y="236.5" width="2067" height="959" fill="none" stroke="#000" stroke-width="5"/>
<rect x="239" y="1177.1" width="30" height="5" fill="#000"/>
<rect x="256" y="1130.8" width="13" height="5" fill="#000"/>
<rect x="256" y="1084.5" width="13" height="5" fill="#000"/>
<rect x="256" y="1038.2" width="13" height="5" fill="#000"/>
<rect x="239" y="991.9" width="30" height="5" fill="#000"/>
<rect x="256" y="945.5" width="13" height="5" fill="#000"/>
<rect x="256" y="899.2" width="13" height="5" fill="#000"/>
<rect x="256" y="852.9" width="13" height="5" fill="#000"/>
<rect x="239" y="806.6" width="30" height="5" fill="#000"/>
<rect x="256" y="760.3" width="13" height="5" fill="#000"/>
<rect x="256" y="714.0" width="13" height="5" fill="#000"/>
<rect x="256" y="667.7" width="13" height="5" fill="#000"/>
<rect x="239" y="621.4" width="30" height="5" fill="#000"/>
<rect x="256" y="575.1" width="13" height="5" fill="#000"/>
<rect x="256" y="528.8" width="13" height="5" fill="#000"/>
<rect x="256" y="482.4" width="13" height="5" fill="#000"/>
<rect x="239" y="436.1" width="30" height="5" fill="#000"/>
<rect x="256" y="389.8" width="13" height="5" fill="#000"/>
<rect x="256" y="343.5" width="13" height="5" fill="#000"/>
<rect x="256" y="297.2" width="13" height="5" fill="#000"/>
<rect x="239" y="250.9" width="30" height="5" fill="#000"/>
<text transform="matrix(0.51145 0 0 0.56338 156.95 1204.54)" x="0" y="0" font-size="100" font-weight="normal">0.0</text>
<text transform="matrix(0.51538 0 0 0.56338 156.94 1019.30)" x="0" y="0" font-size="100" font-weight="normal">0.2</text>
<text transform="matrix(0.50758 0 0 0.56338 156.97 834.06)" x="0" y="0" font-size="100" font-weight="normal">0.4</text>
<text transform="matrix(0.51145 0 0 0.56338 156.95 648.82)" x="0" y="0" font-size="100" font-weight="normal">0.6</text>
<text transform="matrix(0.51145 0 0 0.56338 156.95 463.58)" x="0" y="0" font-size="100" font-weight="normal">0.8</text>
<text transform="matrix(0.49606 0 0 0.56338 159.03 278.34)" x="0" y="0" font-size="100" font-weight="normal">1.0</text>
<rect x="338.3" y="1196" width="5" height="15" fill="#000"/>
<rect x="462.0" y="1196" width="5" height="31" fill="#000"/>
<rect x="585.7" y="1196" width="5" height="15" fill="#000"/>
<rect x="709.5" y="1196" width="5" height="15" fill="#000"/>
<rect x="833.2" y="1196" width="5" height="15" fill="#000"/>
<rect x="957.0" y="1196" width="5" height="15" fill="#000"/>
<rect x="1080.7" y="1196" width="5" height="31" fill="#000"/>
<rect x="1204.4" y="1196" width="5" height="15" fill="#000"/>
<rect x="1328.2" y="1196" width="5" height="15" fill="#000"/>
<rect x="1451.9" y="1196" width="5" height="15" fill="#000"/>
<rect x="1575.7" y="1196" width="5" height="15" fill="#000"/>
<rect x="1699.4" y="1196" width="5" height="31" fill="#000"/>
<rect x="1823.1" y="1196" width="5" height="15" fill="#000"/>
<rect x="1946.9" y="1196" width="5" height="15" fill="#000"/>
<rect x="2070.6" y="1196" width="5" height="15" fill="#000"/>
<rect x="2194.4" y="1196" width="5" height="15" fill="#000"/>
<rect x="2318.1" y="1196" width="5" height="31" fill="#000"/>
<text transform="matrix(0.48855 0 0 0.54930 432.05 1295.45)" x="0" y="0" font-size="100" font-weight="normal">5.0</text>
<text transform="matrix(0.49727 0 0 0.55634 1038.02 1294.94)" x="0" y="0" font-size="100" font-weight="normal">10.0</text>
<text transform="matrix(0.50273 0 0 0.55634 1652.98 1294.94)" x="0" y="0" font-size="100" font-weight="normal">15.0</text>
<text transform="matrix(0.50538 0 0 0.54930 2271.47 1295.45)" x="0" y="0" font-size="100" font-weight="normal">20.0</text>
<text transform="matrix(0.69492 0 0 0.64000 1140.31 1415.20)" x="0" y="0" font-size="100" font-weight="bold">time (min)</text>
<text transform="matrix(0 -0.67938 0.65500 0 97.00 1041.76)" x="0" y="0" font-size="100" font-weight="bold">Normalized Intensity</text>
<rect x="2136" y="255" width="181" height="98" fill="#000"/>
<rect x="2141" y="260" width="169" height="86" fill="#fff"/>
<rect x="2157" y="301" width="34" height="5" rx="1.5" fill="#000"/>
<text transform="matrix(0.53636 0 0 0.67606 2206.71 328.32)" x="0" y="0" font-size="100" font-weight="normal">LS</text>
</svg>
</body></html>
